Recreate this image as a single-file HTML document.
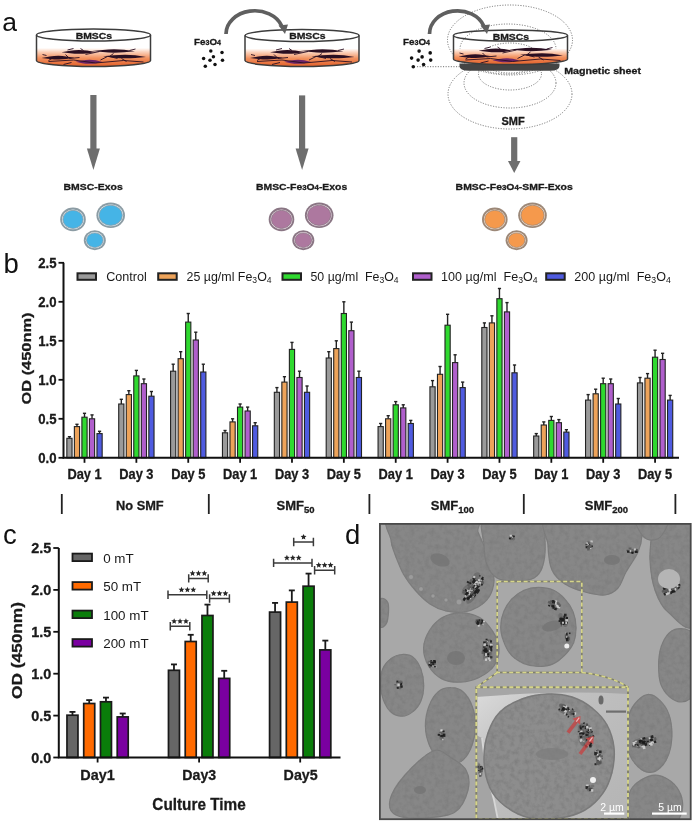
<!DOCTYPE html>
<html><head><meta charset="utf-8"><style>
html,body{margin:0;padding:0;background:#fff;width:697px;height:822px;overflow:hidden}
svg{display:block;font-family:"Liberation Sans", sans-serif;filter:blur(0.4px)}
text[font-weight=bold]{stroke:#1a1a1a;stroke-width:0.3px}
</style></head><body>
<svg width="697" height="822" viewBox="0 0 697 822">
<defs>
<linearGradient id="liq" x1="0" y1="0" x2="0" y2="1">
<stop offset="0" stop-color="#ffffff"/><stop offset="0.2" stop-color="#fbd3bd"/><stop offset="0.55" stop-color="#f2915f"/><stop offset="1" stop-color="#e25e28"/>
</linearGradient>
<clipPath id="dclip"><rect x="380" y="524" width="310.5" height="295"/></clipPath><clipPath id="iclip"><rect x="476.5" y="687.5" width="151.5" height="131.5"/></clipPath><filter id="mott" x="370" y="515" width="330" height="310" filterUnits="userSpaceOnUse"><feTurbulence type="fractalNoise" baseFrequency="0.2" numOctaves="3" seed="3" result="n"/><feColorMatrix in="n" type="matrix" values="0 0 0 0 0.2  0 0 0 0 0.2  0 0 0 0 0.2  1.7 0 0 0 -0.68" result="a"/><feComposite in="a" in2="SourceAlpha" operator="in" result="a2"/><feMerge><feMergeNode in="SourceGraphic"/><feMergeNode in="a2"/></feMerge></filter><filter id="tex" x="0" y="0" width="1" height="1"><feTurbulence type="fractalNoise" baseFrequency="0.18" numOctaves="2" seed="4" result="n"/><feColorMatrix in="n" type="matrix" values="0 0 0 0 0.3  0 0 0 0 0.3  0 0 0 0 0.3  0 0 0 -1.6 1.05" result="m"/><feComposite in="m" in2="SourceGraphic" operator="in"/></filter>
</defs>
<text x="2.2" y="30.6" font-size="26.5" font-weight="normal" text-anchor="start" fill="#111" >a</text>
<text x="3.5" y="272.7" font-size="27.5" font-weight="normal" text-anchor="start" fill="#111" >b</text>
<text x="3.0" y="543.6" font-size="27.5" font-weight="normal" text-anchor="start" fill="#111" >c</text>
<text x="345.0" y="543.6" font-size="27.5" font-weight="normal" text-anchor="start" fill="#111" >d</text>
<ellipse cx="510" cy="40" rx="62.5" ry="35" fill="none" stroke="#707070" stroke-width="1" stroke-dasharray="1.1 1.5"/>
<ellipse cx="508" cy="49" rx="48" ry="25" fill="none" stroke="#707070" stroke-width="1" stroke-dasharray="1.1 1.5"/>
<ellipse cx="510" cy="58" rx="30" ry="15" fill="none" stroke="#707070" stroke-width="1" stroke-dasharray="1.1 1.5"/>
<ellipse cx="510" cy="94" rx="62" ry="35" fill="none" stroke="#707070" stroke-width="1" stroke-dasharray="1.1 1.5"/>
<ellipse cx="510" cy="83" rx="46" ry="25" fill="none" stroke="#707070" stroke-width="1" stroke-dasharray="1.1 1.5"/>
<ellipse cx="510" cy="74" rx="31.5" ry="16" fill="none" stroke="#707070" stroke-width="1" stroke-dasharray="1.1 1.5"/>
<line x1="417" y1="66.7" x2="461" y2="66.7" stroke="#707070" stroke-width="1" stroke-dasharray="1.1 1.5"/>
<path d="M459.5,63.5 L559.5,63.5 L559.5,66 Q559.5,70.8 550,70.8 L469,70.8 Q459.5,70.8 459.5,66 Z" fill="#444"/>
<path d="M36.5,48 L36.5,60.5 A57,6 0 0 0 150.5,60.5 L150.5,48 Z" fill="url(#liq)"/><path d="M61.5,52.2 L70.0,50.7 Q78.5,49.5 87.0,50.6 L95.5,52.0 L87.0,53.4 Q78.5,54.4 70.0,53.2 Z" fill="#2a0f22"/><path d="M92.0,50.9 L102.8,49.9 Q113.5,48.8 124.2,49.8 L135.0,51.3 L124.2,52.2 Q113.5,53.1 102.8,52.1 Z" fill="#2a0f22"/><path d="M41.5,58.0 L49.8,56.5 Q58.0,55.3 66.2,56.4 L74.5,57.7 L66.2,59.1 Q58.0,60.0 49.8,58.9 Z" fill="#2a0f22"/><path d="M103.0,56.3 L113.8,55.3 Q124.5,54.1 135.2,55.2 L146.0,57.0 L135.2,57.9 Q124.5,58.8 113.8,57.7 Z" fill="#2a0f22"/><path d="M75.5,61.7 L82.2,60.4 Q89.0,59.0 95.8,60.2 L102.5,62.1 L95.8,63.3 Q89.0,64.4 82.2,63.2 Z" fill="#6a2468"/><path d="M48.5,61.5 L73.5,60.0 L95.5,63.0 L123.5,60.5 L143.5,62.0 M67.5,50.0 L73.5,48.5 M85.5,54.5 L99.5,51.5 M71.5,62.5 L63.5,64.5 M107.5,56.5 l-7,3.5 M129.5,50.5 l6,-1.5 M53.5,57.5 l-5,3 M65.5,54.5 l4,4 l10,-1 M113.5,53.5 l-4,3 l8,2 M83.5,50.5 l-3,-2 M121.5,58.5 l5,3 M46.5,55.5 l-4,-1" stroke="#2a0f22" stroke-width="0.9" fill="none"/><path d="M36.5,35 L36.5,60.5 A57,6 0 0 0 150.5,60.5 L150.5,35" fill="none" stroke="#3c3c3c" stroke-width="1.5"/><ellipse cx="93.5" cy="35" rx="57" ry="6" fill="none" stroke="#3c3c3c" stroke-width="1.5"/>
<text x="93.90" y="38.80" font-size="9.7" font-weight="bold" text-anchor="middle" textLength="36.50" lengthAdjust="spacingAndGlyphs" fill="#1a1a1a">BMSCs</text>
<path d="M245,48.6 L245,60.5 A57,6 0 0 0 359,60.5 L359,48.6 Z" fill="url(#liq)"/><path d="M270.0,52.2 L278.5,50.7 Q287.0,49.5 295.5,50.6 L304.0,52.0 L295.5,53.4 Q287.0,54.4 278.5,53.2 Z" fill="#2a0f22"/><path d="M300.5,50.9 L311.2,49.9 Q322.0,48.8 332.8,49.8 L343.5,51.3 L332.8,52.2 Q322.0,53.1 311.2,52.1 Z" fill="#2a0f22"/><path d="M250.0,58.0 L258.2,56.5 Q266.5,55.3 274.8,56.4 L283.0,57.7 L274.8,59.1 Q266.5,60.0 258.2,58.9 Z" fill="#2a0f22"/><path d="M311.5,56.3 L322.2,55.3 Q333.0,54.1 343.8,55.2 L354.5,57.0 L343.8,57.9 Q333.0,58.8 322.2,57.7 Z" fill="#2a0f22"/><path d="M284.0,61.7 L290.8,60.4 Q297.5,59.0 304.2,60.2 L311.0,62.1 L304.2,63.3 Q297.5,64.4 290.8,63.2 Z" fill="#6a2468"/><path d="M257,61.5 L282,60.0 L304,63.0 L332,60.5 L352,62.0 M276,50.0 L282,48.5 M294,54.5 L308,51.5 M280,62.5 L272,64.5 M316,56.5 l-7,3.5 M338,50.5 l6,-1.5 M262,57.5 l-5,3 M274,54.5 l4,4 l10,-1 M322,53.5 l-4,3 l8,2 M292,50.5 l-3,-2 M330,58.5 l5,3 M255,55.5 l-4,-1" stroke="#2a0f22" stroke-width="0.9" fill="none"/><path d="M245,35.6 L245,60.5 A57,6 0 0 0 359,60.5 L359,35.6" fill="none" stroke="#3c3c3c" stroke-width="1.5"/><ellipse cx="302" cy="35.6" rx="57" ry="6" fill="none" stroke="#3c3c3c" stroke-width="1.5"/>
<text x="307.40" y="39.40" font-size="9.7" font-weight="bold" text-anchor="middle" textLength="36.50" lengthAdjust="spacingAndGlyphs" fill="#1a1a1a">BMSCs</text>
<path d="M453.5,48.5 L453.5,59 A57,5.5 0 0 0 567.5,59 L567.5,48.5 Z" fill="url(#liq)"/><path d="M478.5,50.7 L487.0,49.2 Q495.5,48.0 504.0,49.1 L512.5,50.5 L504.0,51.9 Q495.5,52.9 487.0,51.7 Z" fill="#2a0f22"/><path d="M509.0,49.4 L519.8,48.4 Q530.5,47.3 541.2,48.3 L552.0,49.8 L541.2,50.7 Q530.5,51.6 519.8,50.6 Z" fill="#2a0f22"/><path d="M458.5,56.5 L466.8,55.0 Q475.0,53.8 483.2,54.9 L491.5,56.2 L483.2,57.6 Q475.0,58.5 466.8,57.4 Z" fill="#2a0f22"/><path d="M520.0,54.8 L530.8,53.8 Q541.5,52.6 552.2,53.7 L563.0,55.5 L552.2,56.4 Q541.5,57.3 530.8,56.2 Z" fill="#2a0f22"/><path d="M492.5,60.2 L499.2,58.9 Q506.0,57.5 512.8,58.7 L519.5,60.6 L512.8,61.8 Q506.0,62.9 499.2,61.7 Z" fill="#6a2468"/><path d="M465.5,60 L490.5,58.5 L512.5,61.5 L540.5,59 L560.5,60.5 M484.5,48.5 L490.5,47 M502.5,53 L516.5,50 M488.5,61 L480.5,63 M524.5,55 l-7,3.5 M546.5,49 l6,-1.5 M470.5,56 l-5,3 M482.5,53 l4,4 l10,-1 M530.5,52 l-4,3 l8,2 M500.5,49 l-3,-2 M538.5,57 l5,3 M463.5,54 l-4,-1" stroke="#2a0f22" stroke-width="0.9" fill="none"/><path d="M453.5,35.5 L453.5,59 A57,5.5 0 0 0 567.5,59 L567.5,35.5" fill="none" stroke="#3c3c3c" stroke-width="1.5"/><ellipse cx="510.5" cy="35.5" rx="57" ry="5.5" fill="none" stroke="#3c3c3c" stroke-width="1.5"/>
<text x="510.90" y="39.80" font-size="9.7" font-weight="bold" text-anchor="middle" textLength="36.50" lengthAdjust="spacingAndGlyphs" fill="#1a1a1a">BMSCs</text>
<text x="194" y="45.3" font-size="9.8" font-weight="bold" text-anchor="start" fill="#1a1a1a">Fe<tspan font-size="7.1">3</tspan>O<tspan font-size="7.1">4</tspan></text>
<text x="403" y="45.1" font-size="9.8" font-weight="bold" text-anchor="start" fill="#1a1a1a">Fe<tspan font-size="7.1">3</tspan>O<tspan font-size="7.1">4</tspan></text>
<circle cx="210.8" cy="51.1" r="1.75" fill="#111"/>
<circle cx="222" cy="52.5" r="1.75" fill="#111"/>
<circle cx="213.4" cy="56.8" r="1.75" fill="#111"/>
<circle cx="203.6" cy="58.5" r="1.75" fill="#111"/>
<circle cx="222.5" cy="60.3" r="1.75" fill="#111"/>
<circle cx="210" cy="60.3" r="1.75" fill="#111"/>
<circle cx="215" cy="64.6" r="1.75" fill="#111"/>
<circle cx="205.3" cy="66.3" r="1.75" fill="#111"/>
<circle cx="419.1" cy="51.1" r="1.8" fill="#111"/>
<circle cx="430.2" cy="52.9" r="1.8" fill="#111"/>
<circle cx="411.6" cy="58.1" r="1.8" fill="#111"/>
<circle cx="422.1" cy="56.9" r="1.8" fill="#111"/>
<circle cx="418.1" cy="60.1" r="1.8" fill="#111"/>
<circle cx="430.7" cy="60.1" r="1.8" fill="#111"/>
<circle cx="423.6" cy="64.6" r="1.8" fill="#111"/>
<circle cx="413.3" cy="66.7" r="1.8" fill="#111"/>
<path d="M226.00,33.90 A28.75,23.10 0 0 1 281.77,26.00" fill="none" stroke="#5f5f5f" stroke-width="3.7"/>
<path d="M278.5,25.4 L288,24.4 L285,33.9 Z" fill="#5f5f5f"/>
<path d="M429.50,33.90 A28.00,23.10 0 0 1 483.81,26.00" fill="none" stroke="#5f5f5f" stroke-width="3.7"/>
<path d="M480.5,25.4 L490,24.4 L487,33.9 Z" fill="#5f5f5f"/>
<text x="602.60" y="74.30" font-size="9.3" font-weight="bold" text-anchor="middle" textLength="76.80" lengthAdjust="spacingAndGlyphs" fill="#1a1a1a">Magnetic sheet</text>
<text x="513.0" y="124.5" font-size="11" font-weight="bold" text-anchor="middle" fill="#1a1a1a" >SMF</text>
<rect x="90.30000000000001" y="95" width="6.2" height="54.400000000000006" fill="#6e6e6e"/>
<path d="M86.9,148.4 L99.9,148.4 L93.4,170 Z" fill="#6e6e6e"/>
<rect x="299.0" y="95.4" width="6.2" height="54.0" fill="#6e6e6e"/>
<path d="M295.6,148.4 L308.6,148.4 L302.1,170 Z" fill="#6e6e6e"/>
<rect x="511.1" y="137.2" width="6.2" height="24.80000000000001" fill="#6e6e6e"/>
<path d="M507.95000000000005,161 L520.45,161 L514.2,173 Z" fill="#6e6e6e"/>
<text x="93.15" y="189.70" font-size="9.6" font-weight="bold" text-anchor="middle" textLength="59.10" lengthAdjust="spacingAndGlyphs" fill="#1a1a1a">BMSC-Exos</text>
<text x="301.6" y="189.7" font-size="9.6" font-weight="bold" text-anchor="middle" textLength="91.2" lengthAdjust="spacingAndGlyphs" fill="#1a1a1a">BMSC-Fe<tspan font-size="7.2">3</tspan>O<tspan font-size="7.2">4</tspan>-Exos</text>
<text x="514.2" y="190.1" font-size="9.6" font-weight="bold" text-anchor="middle" textLength="117.2" lengthAdjust="spacingAndGlyphs" fill="#1a1a1a">BMSC-Fe<tspan font-size="7.2">3</tspan>O<tspan font-size="7.2">4</tspan>-SMF-Exos</text>
<ellipse cx="73.0" cy="219.4" rx="12.8" ry="11.8" fill="#8c9ca4"/>
<ellipse cx="73.0" cy="219.4" rx="10.9" ry="9.9" fill="#e8f6fc"/>
<ellipse cx="73.0" cy="219.4" rx="10.100000000000001" ry="9.100000000000001" fill="#45b4e6" stroke="#8c9ca4" stroke-width="0.8"/>
<ellipse cx="110.69999999999999" cy="215.3" rx="14.3" ry="12.8" fill="#8c9ca4"/>
<ellipse cx="110.69999999999999" cy="215.3" rx="12.4" ry="10.9" fill="#e8f6fc"/>
<ellipse cx="110.69999999999999" cy="215.3" rx="11.600000000000001" ry="10.100000000000001" fill="#45b4e6" stroke="#8c9ca4" stroke-width="0.8"/>
<ellipse cx="94.80000000000001" cy="240.2" rx="11" ry="10" fill="#8c9ca4"/>
<ellipse cx="94.80000000000001" cy="240.2" rx="9.1" ry="8.1" fill="#e8f6fc"/>
<ellipse cx="94.80000000000001" cy="240.2" rx="8.3" ry="7.3" fill="#45b4e6" stroke="#8c9ca4" stroke-width="0.8"/>
<ellipse cx="281.5" cy="219.4" rx="12.8" ry="11.8" fill="#8a7684"/>
<ellipse cx="281.5" cy="219.4" rx="10.9" ry="9.9" fill="#f3e6ef"/>
<ellipse cx="281.5" cy="219.4" rx="10.100000000000001" ry="9.100000000000001" fill="#ad789f" stroke="#8a7684" stroke-width="0.8"/>
<ellipse cx="319.2" cy="215.3" rx="14.3" ry="12.8" fill="#8a7684"/>
<ellipse cx="319.2" cy="215.3" rx="12.4" ry="10.9" fill="#f3e6ef"/>
<ellipse cx="319.2" cy="215.3" rx="11.600000000000001" ry="10.100000000000001" fill="#ad789f" stroke="#8a7684" stroke-width="0.8"/>
<ellipse cx="303.3" cy="240.2" rx="11" ry="10" fill="#8a7684"/>
<ellipse cx="303.3" cy="240.2" rx="9.1" ry="8.1" fill="#f3e6ef"/>
<ellipse cx="303.3" cy="240.2" rx="8.3" ry="7.3" fill="#ad789f" stroke="#8a7684" stroke-width="0.8"/>
<ellipse cx="494.8" cy="219.4" rx="12.8" ry="11.8" fill="#9c8878"/>
<ellipse cx="494.8" cy="219.4" rx="10.9" ry="9.9" fill="#fde8d6"/>
<ellipse cx="494.8" cy="219.4" rx="10.100000000000001" ry="9.100000000000001" fill="#f5994c" stroke="#9c8878" stroke-width="0.8"/>
<ellipse cx="532.5" cy="215.3" rx="14.3" ry="12.8" fill="#9c8878"/>
<ellipse cx="532.5" cy="215.3" rx="12.4" ry="10.9" fill="#fde8d6"/>
<ellipse cx="532.5" cy="215.3" rx="11.600000000000001" ry="10.100000000000001" fill="#f5994c" stroke="#9c8878" stroke-width="0.8"/>
<ellipse cx="516.6" cy="240.2" rx="11" ry="10" fill="#9c8878"/>
<ellipse cx="516.6" cy="240.2" rx="9.1" ry="8.1" fill="#fde8d6"/>
<ellipse cx="516.6" cy="240.2" rx="8.3" ry="7.3" fill="#f5994c" stroke="#9c8878" stroke-width="0.8"/>
<line x1="69.44" y1="438.3" x2="69.44" y2="436.7" stroke="#222" stroke-width="1.4"/><line x1="67.84" y1="436.7" x2="71.04" y2="436.7" stroke="#222" stroke-width="1.4"/><rect x="66.84" y="438.3" width="5.2" height="19.5" fill="#9a9a9a" stroke="#222" stroke-width="1.1"/><line x1="76.97" y1="426.6" x2="76.97" y2="424.3" stroke="#222" stroke-width="1.4"/><line x1="75.37" y1="424.3" x2="78.57" y2="424.3" stroke="#222" stroke-width="1.4"/><rect x="74.37" y="426.6" width="5.2" height="31.2" fill="#eda35a" stroke="#222" stroke-width="1.1"/><line x1="84.50" y1="417.2" x2="84.50" y2="413.3" stroke="#222" stroke-width="1.4"/><line x1="82.90" y1="413.3" x2="86.10" y2="413.3" stroke="#222" stroke-width="1.4"/><rect x="81.90" y="417.2" width="5.2" height="40.6" fill="#2fd92f" stroke="#222" stroke-width="1.1"/><line x1="92.03" y1="418.8" x2="92.03" y2="414.9" stroke="#222" stroke-width="1.4"/><line x1="90.43" y1="414.9" x2="93.63" y2="414.9" stroke="#222" stroke-width="1.4"/><rect x="89.43" y="418.8" width="5.2" height="39.0" fill="#b05fcc" stroke="#222" stroke-width="1.1"/><line x1="99.56" y1="433.6" x2="99.56" y2="431.3" stroke="#222" stroke-width="1.4"/><line x1="97.96" y1="431.3" x2="101.16" y2="431.3" stroke="#222" stroke-width="1.4"/><rect x="96.96" y="433.6" width="5.2" height="24.2" fill="#4f5be0" stroke="#222" stroke-width="1.1"/><line x1="84.50" y1="457.8" x2="84.50" y2="462.8" stroke="#111" stroke-width="1.8"/><line x1="121.31" y1="404.0" x2="121.31" y2="399.3" stroke="#222" stroke-width="1.4"/><line x1="119.71" y1="399.3" x2="122.91" y2="399.3" stroke="#222" stroke-width="1.4"/><rect x="118.71" y="404.0" width="5.2" height="53.8" fill="#9a9a9a" stroke="#222" stroke-width="1.1"/><line x1="128.84" y1="394.6" x2="128.84" y2="390.7" stroke="#222" stroke-width="1.4"/><line x1="127.24" y1="390.7" x2="130.44" y2="390.7" stroke="#222" stroke-width="1.4"/><rect x="126.24" y="394.6" width="5.2" height="63.2" fill="#eda35a" stroke="#222" stroke-width="1.1"/><line x1="136.37" y1="375.9" x2="136.37" y2="370.4" stroke="#222" stroke-width="1.4"/><line x1="134.77" y1="370.4" x2="137.97" y2="370.4" stroke="#222" stroke-width="1.4"/><rect x="133.77" y="375.9" width="5.2" height="81.9" fill="#2fd92f" stroke="#222" stroke-width="1.1"/><line x1="143.90" y1="383.7" x2="143.90" y2="379.0" stroke="#222" stroke-width="1.4"/><line x1="142.30" y1="379.0" x2="145.50" y2="379.0" stroke="#222" stroke-width="1.4"/><rect x="141.30" y="383.7" width="5.2" height="74.1" fill="#b05fcc" stroke="#222" stroke-width="1.1"/><line x1="151.43" y1="396.2" x2="151.43" y2="391.5" stroke="#222" stroke-width="1.4"/><line x1="149.83" y1="391.5" x2="153.03" y2="391.5" stroke="#222" stroke-width="1.4"/><rect x="148.83" y="396.2" width="5.2" height="61.6" fill="#4f5be0" stroke="#222" stroke-width="1.1"/><line x1="136.37" y1="457.8" x2="136.37" y2="462.8" stroke="#111" stroke-width="1.8"/><line x1="173.18" y1="371.2" x2="173.18" y2="364.2" stroke="#222" stroke-width="1.4"/><line x1="171.58" y1="364.2" x2="174.78" y2="364.2" stroke="#222" stroke-width="1.4"/><rect x="170.58" y="371.2" width="5.2" height="86.6" fill="#9a9a9a" stroke="#222" stroke-width="1.1"/><line x1="180.71" y1="358.7" x2="180.71" y2="351.7" stroke="#222" stroke-width="1.4"/><line x1="179.11" y1="351.7" x2="182.31" y2="351.7" stroke="#222" stroke-width="1.4"/><rect x="178.11" y="358.7" width="5.2" height="99.1" fill="#eda35a" stroke="#222" stroke-width="1.1"/><line x1="188.24" y1="322.1" x2="188.24" y2="313.5" stroke="#222" stroke-width="1.4"/><line x1="186.64" y1="313.5" x2="189.84" y2="313.5" stroke="#222" stroke-width="1.4"/><rect x="185.64" y="322.1" width="5.2" height="135.7" fill="#2fd92f" stroke="#222" stroke-width="1.1"/><line x1="195.77" y1="340.0" x2="195.77" y2="332.2" stroke="#222" stroke-width="1.4"/><line x1="194.17" y1="332.2" x2="197.37" y2="332.2" stroke="#222" stroke-width="1.4"/><rect x="193.17" y="340.0" width="5.2" height="117.8" fill="#b05fcc" stroke="#222" stroke-width="1.1"/><line x1="203.30" y1="372.0" x2="203.30" y2="364.2" stroke="#222" stroke-width="1.4"/><line x1="201.70" y1="364.2" x2="204.90" y2="364.2" stroke="#222" stroke-width="1.4"/><rect x="200.70" y="372.0" width="5.2" height="85.8" fill="#4f5be0" stroke="#222" stroke-width="1.1"/><line x1="188.24" y1="457.8" x2="188.24" y2="462.8" stroke="#111" stroke-width="1.8"/><line x1="225.05" y1="432.8" x2="225.05" y2="430.5" stroke="#222" stroke-width="1.4"/><line x1="223.45" y1="430.5" x2="226.65" y2="430.5" stroke="#222" stroke-width="1.4"/><rect x="222.45" y="432.8" width="5.2" height="25.0" fill="#9a9a9a" stroke="#222" stroke-width="1.1"/><line x1="232.58" y1="421.9" x2="232.58" y2="418.8" stroke="#222" stroke-width="1.4"/><line x1="230.98" y1="418.8" x2="234.18" y2="418.8" stroke="#222" stroke-width="1.4"/><rect x="229.98" y="421.9" width="5.2" height="35.9" fill="#eda35a" stroke="#222" stroke-width="1.1"/><line x1="240.11" y1="407.1" x2="240.11" y2="404.0" stroke="#222" stroke-width="1.4"/><line x1="238.51" y1="404.0" x2="241.71" y2="404.0" stroke="#222" stroke-width="1.4"/><rect x="237.51" y="407.1" width="5.2" height="50.7" fill="#2fd92f" stroke="#222" stroke-width="1.1"/><line x1="247.64" y1="411.0" x2="247.64" y2="407.1" stroke="#222" stroke-width="1.4"/><line x1="246.04" y1="407.1" x2="249.24" y2="407.1" stroke="#222" stroke-width="1.4"/><rect x="245.04" y="411.0" width="5.2" height="46.8" fill="#b05fcc" stroke="#222" stroke-width="1.1"/><line x1="255.17" y1="425.8" x2="255.17" y2="422.7" stroke="#222" stroke-width="1.4"/><line x1="253.57" y1="422.7" x2="256.77" y2="422.7" stroke="#222" stroke-width="1.4"/><rect x="252.57" y="425.8" width="5.2" height="32.0" fill="#4f5be0" stroke="#222" stroke-width="1.1"/><line x1="240.11" y1="457.8" x2="240.11" y2="462.8" stroke="#111" stroke-width="1.8"/><line x1="276.92" y1="392.3" x2="276.92" y2="387.6" stroke="#222" stroke-width="1.4"/><line x1="275.32" y1="387.6" x2="278.52" y2="387.6" stroke="#222" stroke-width="1.4"/><rect x="274.32" y="392.3" width="5.2" height="65.5" fill="#9a9a9a" stroke="#222" stroke-width="1.1"/><line x1="284.45" y1="382.1" x2="284.45" y2="376.7" stroke="#222" stroke-width="1.4"/><line x1="282.85" y1="376.7" x2="286.05" y2="376.7" stroke="#222" stroke-width="1.4"/><rect x="281.85" y="382.1" width="5.2" height="75.7" fill="#eda35a" stroke="#222" stroke-width="1.1"/><line x1="291.98" y1="349.4" x2="291.98" y2="342.4" stroke="#222" stroke-width="1.4"/><line x1="290.38" y1="342.4" x2="293.58" y2="342.4" stroke="#222" stroke-width="1.4"/><rect x="289.38" y="349.4" width="5.2" height="108.4" fill="#2fd92f" stroke="#222" stroke-width="1.1"/><line x1="299.51" y1="377.5" x2="299.51" y2="371.2" stroke="#222" stroke-width="1.4"/><line x1="297.91" y1="371.2" x2="301.11" y2="371.2" stroke="#222" stroke-width="1.4"/><rect x="296.91" y="377.5" width="5.2" height="80.3" fill="#b05fcc" stroke="#222" stroke-width="1.1"/><line x1="307.04" y1="392.3" x2="307.04" y2="386.0" stroke="#222" stroke-width="1.4"/><line x1="305.44" y1="386.0" x2="308.64" y2="386.0" stroke="#222" stroke-width="1.4"/><rect x="304.44" y="392.3" width="5.2" height="65.5" fill="#4f5be0" stroke="#222" stroke-width="1.1"/><line x1="291.98" y1="457.8" x2="291.98" y2="462.8" stroke="#111" stroke-width="1.8"/><line x1="328.79" y1="358.0" x2="328.79" y2="351.7" stroke="#222" stroke-width="1.4"/><line x1="327.19" y1="351.7" x2="330.39" y2="351.7" stroke="#222" stroke-width="1.4"/><rect x="326.19" y="358.0" width="5.2" height="99.8" fill="#9a9a9a" stroke="#222" stroke-width="1.1"/><line x1="336.32" y1="348.6" x2="336.32" y2="340.8" stroke="#222" stroke-width="1.4"/><line x1="334.72" y1="340.8" x2="337.92" y2="340.8" stroke="#222" stroke-width="1.4"/><rect x="333.72" y="348.6" width="5.2" height="109.2" fill="#eda35a" stroke="#222" stroke-width="1.1"/><line x1="343.85" y1="313.5" x2="343.85" y2="301.8" stroke="#222" stroke-width="1.4"/><line x1="342.25" y1="301.8" x2="345.45" y2="301.8" stroke="#222" stroke-width="1.4"/><rect x="341.25" y="313.5" width="5.2" height="144.3" fill="#2fd92f" stroke="#222" stroke-width="1.1"/><line x1="351.38" y1="330.7" x2="351.38" y2="322.1" stroke="#222" stroke-width="1.4"/><line x1="349.78" y1="322.1" x2="352.98" y2="322.1" stroke="#222" stroke-width="1.4"/><rect x="348.78" y="330.7" width="5.2" height="127.1" fill="#b05fcc" stroke="#222" stroke-width="1.1"/><line x1="358.91" y1="377.5" x2="358.91" y2="371.2" stroke="#222" stroke-width="1.4"/><line x1="357.31" y1="371.2" x2="360.51" y2="371.2" stroke="#222" stroke-width="1.4"/><rect x="356.31" y="377.5" width="5.2" height="80.3" fill="#4f5be0" stroke="#222" stroke-width="1.1"/><line x1="343.85" y1="457.8" x2="343.85" y2="462.8" stroke="#111" stroke-width="1.8"/><line x1="380.66" y1="426.6" x2="380.66" y2="423.5" stroke="#222" stroke-width="1.4"/><line x1="379.06" y1="423.5" x2="382.26" y2="423.5" stroke="#222" stroke-width="1.4"/><rect x="378.06" y="426.6" width="5.2" height="31.2" fill="#9a9a9a" stroke="#222" stroke-width="1.1"/><line x1="388.19" y1="418.8" x2="388.19" y2="415.7" stroke="#222" stroke-width="1.4"/><line x1="386.59" y1="415.7" x2="389.79" y2="415.7" stroke="#222" stroke-width="1.4"/><rect x="385.59" y="418.8" width="5.2" height="39.0" fill="#eda35a" stroke="#222" stroke-width="1.1"/><line x1="395.72" y1="404.8" x2="395.72" y2="401.6" stroke="#222" stroke-width="1.4"/><line x1="394.12" y1="401.6" x2="397.32" y2="401.6" stroke="#222" stroke-width="1.4"/><rect x="393.12" y="404.8" width="5.2" height="53.0" fill="#2fd92f" stroke="#222" stroke-width="1.1"/><line x1="403.25" y1="407.9" x2="403.25" y2="404.8" stroke="#222" stroke-width="1.4"/><line x1="401.65" y1="404.8" x2="404.85" y2="404.8" stroke="#222" stroke-width="1.4"/><rect x="400.65" y="407.9" width="5.2" height="49.9" fill="#b05fcc" stroke="#222" stroke-width="1.1"/><line x1="410.78" y1="423.5" x2="410.78" y2="420.4" stroke="#222" stroke-width="1.4"/><line x1="409.18" y1="420.4" x2="412.38" y2="420.4" stroke="#222" stroke-width="1.4"/><rect x="408.18" y="423.5" width="5.2" height="34.3" fill="#4f5be0" stroke="#222" stroke-width="1.1"/><line x1="395.72" y1="457.8" x2="395.72" y2="462.8" stroke="#111" stroke-width="1.8"/><line x1="432.53" y1="386.8" x2="432.53" y2="380.6" stroke="#222" stroke-width="1.4"/><line x1="430.93" y1="380.6" x2="434.13" y2="380.6" stroke="#222" stroke-width="1.4"/><rect x="429.93" y="386.8" width="5.2" height="71.0" fill="#9a9a9a" stroke="#222" stroke-width="1.1"/><line x1="440.06" y1="374.3" x2="440.06" y2="366.5" stroke="#222" stroke-width="1.4"/><line x1="438.46" y1="366.5" x2="441.66" y2="366.5" stroke="#222" stroke-width="1.4"/><rect x="437.46" y="374.3" width="5.2" height="83.5" fill="#eda35a" stroke="#222" stroke-width="1.1"/><line x1="447.59" y1="325.2" x2="447.59" y2="314.3" stroke="#222" stroke-width="1.4"/><line x1="445.99" y1="314.3" x2="449.19" y2="314.3" stroke="#222" stroke-width="1.4"/><rect x="444.99" y="325.2" width="5.2" height="132.6" fill="#2fd92f" stroke="#222" stroke-width="1.1"/><line x1="455.12" y1="362.6" x2="455.12" y2="354.8" stroke="#222" stroke-width="1.4"/><line x1="453.52" y1="354.8" x2="456.72" y2="354.8" stroke="#222" stroke-width="1.4"/><rect x="452.52" y="362.6" width="5.2" height="95.2" fill="#b05fcc" stroke="#222" stroke-width="1.1"/><line x1="462.65" y1="387.6" x2="462.65" y2="382.1" stroke="#222" stroke-width="1.4"/><line x1="461.05" y1="382.1" x2="464.25" y2="382.1" stroke="#222" stroke-width="1.4"/><rect x="460.05" y="387.6" width="5.2" height="70.2" fill="#4f5be0" stroke="#222" stroke-width="1.1"/><line x1="447.59" y1="457.8" x2="447.59" y2="462.8" stroke="#111" stroke-width="1.8"/><line x1="484.40" y1="327.5" x2="484.40" y2="322.9" stroke="#222" stroke-width="1.4"/><line x1="482.80" y1="322.9" x2="486.00" y2="322.9" stroke="#222" stroke-width="1.4"/><rect x="481.80" y="327.5" width="5.2" height="130.3" fill="#9a9a9a" stroke="#222" stroke-width="1.1"/><line x1="491.93" y1="322.9" x2="491.93" y2="315.8" stroke="#222" stroke-width="1.4"/><line x1="490.33" y1="315.8" x2="493.53" y2="315.8" stroke="#222" stroke-width="1.4"/><rect x="489.33" y="322.9" width="5.2" height="134.9" fill="#eda35a" stroke="#222" stroke-width="1.1"/><line x1="499.46" y1="298.7" x2="499.46" y2="288.5" stroke="#222" stroke-width="1.4"/><line x1="497.86" y1="288.5" x2="501.06" y2="288.5" stroke="#222" stroke-width="1.4"/><rect x="496.86" y="298.7" width="5.2" height="159.1" fill="#2fd92f" stroke="#222" stroke-width="1.1"/><line x1="506.99" y1="311.9" x2="506.99" y2="302.6" stroke="#222" stroke-width="1.4"/><line x1="505.39" y1="302.6" x2="508.59" y2="302.6" stroke="#222" stroke-width="1.4"/><rect x="504.39" y="311.9" width="5.2" height="145.9" fill="#b05fcc" stroke="#222" stroke-width="1.1"/><line x1="514.52" y1="372.8" x2="514.52" y2="365.0" stroke="#222" stroke-width="1.4"/><line x1="512.92" y1="365.0" x2="516.12" y2="365.0" stroke="#222" stroke-width="1.4"/><rect x="511.92" y="372.8" width="5.2" height="85.0" fill="#4f5be0" stroke="#222" stroke-width="1.1"/><line x1="499.46" y1="457.8" x2="499.46" y2="462.8" stroke="#111" stroke-width="1.8"/><line x1="536.27" y1="436.0" x2="536.27" y2="433.6" stroke="#222" stroke-width="1.4"/><line x1="534.67" y1="433.6" x2="537.87" y2="433.6" stroke="#222" stroke-width="1.4"/><rect x="533.67" y="436.0" width="5.2" height="21.8" fill="#9a9a9a" stroke="#222" stroke-width="1.1"/><line x1="543.80" y1="425.0" x2="543.80" y2="421.9" stroke="#222" stroke-width="1.4"/><line x1="542.20" y1="421.9" x2="545.40" y2="421.9" stroke="#222" stroke-width="1.4"/><rect x="541.20" y="425.0" width="5.2" height="32.8" fill="#eda35a" stroke="#222" stroke-width="1.1"/><line x1="551.33" y1="420.4" x2="551.33" y2="416.5" stroke="#222" stroke-width="1.4"/><line x1="549.73" y1="416.5" x2="552.93" y2="416.5" stroke="#222" stroke-width="1.4"/><rect x="548.73" y="420.4" width="5.2" height="37.4" fill="#2fd92f" stroke="#222" stroke-width="1.1"/><line x1="558.86" y1="422.7" x2="558.86" y2="419.6" stroke="#222" stroke-width="1.4"/><line x1="557.26" y1="419.6" x2="560.46" y2="419.6" stroke="#222" stroke-width="1.4"/><rect x="556.26" y="422.7" width="5.2" height="35.1" fill="#b05fcc" stroke="#222" stroke-width="1.1"/><line x1="566.39" y1="432.1" x2="566.39" y2="429.7" stroke="#222" stroke-width="1.4"/><line x1="564.79" y1="429.7" x2="567.99" y2="429.7" stroke="#222" stroke-width="1.4"/><rect x="563.79" y="432.1" width="5.2" height="25.7" fill="#4f5be0" stroke="#222" stroke-width="1.1"/><line x1="551.33" y1="457.8" x2="551.33" y2="462.8" stroke="#111" stroke-width="1.8"/><line x1="588.14" y1="400.1" x2="588.14" y2="394.6" stroke="#222" stroke-width="1.4"/><line x1="586.54" y1="394.6" x2="589.74" y2="394.6" stroke="#222" stroke-width="1.4"/><rect x="585.54" y="400.1" width="5.2" height="57.7" fill="#9a9a9a" stroke="#222" stroke-width="1.1"/><line x1="595.67" y1="393.8" x2="595.67" y2="389.2" stroke="#222" stroke-width="1.4"/><line x1="594.07" y1="389.2" x2="597.27" y2="389.2" stroke="#222" stroke-width="1.4"/><rect x="593.07" y="393.8" width="5.2" height="64.0" fill="#eda35a" stroke="#222" stroke-width="1.1"/><line x1="603.20" y1="383.7" x2="603.20" y2="378.2" stroke="#222" stroke-width="1.4"/><line x1="601.60" y1="378.2" x2="604.80" y2="378.2" stroke="#222" stroke-width="1.4"/><rect x="600.60" y="383.7" width="5.2" height="74.1" fill="#2fd92f" stroke="#222" stroke-width="1.1"/><line x1="610.73" y1="383.7" x2="610.73" y2="379.0" stroke="#222" stroke-width="1.4"/><line x1="609.13" y1="379.0" x2="612.33" y2="379.0" stroke="#222" stroke-width="1.4"/><rect x="608.13" y="383.7" width="5.2" height="74.1" fill="#b05fcc" stroke="#222" stroke-width="1.1"/><line x1="618.26" y1="404.0" x2="618.26" y2="398.5" stroke="#222" stroke-width="1.4"/><line x1="616.66" y1="398.5" x2="619.86" y2="398.5" stroke="#222" stroke-width="1.4"/><rect x="615.66" y="404.0" width="5.2" height="53.8" fill="#4f5be0" stroke="#222" stroke-width="1.1"/><line x1="603.20" y1="457.8" x2="603.20" y2="462.8" stroke="#111" stroke-width="1.8"/><line x1="640.01" y1="382.9" x2="640.01" y2="377.5" stroke="#222" stroke-width="1.4"/><line x1="638.41" y1="377.5" x2="641.61" y2="377.5" stroke="#222" stroke-width="1.4"/><rect x="637.41" y="382.9" width="5.2" height="74.9" fill="#9a9a9a" stroke="#222" stroke-width="1.1"/><line x1="647.54" y1="378.2" x2="647.54" y2="373.6" stroke="#222" stroke-width="1.4"/><line x1="645.94" y1="373.6" x2="649.14" y2="373.6" stroke="#222" stroke-width="1.4"/><rect x="644.94" y="378.2" width="5.2" height="79.6" fill="#eda35a" stroke="#222" stroke-width="1.1"/><line x1="655.07" y1="357.2" x2="655.07" y2="350.2" stroke="#222" stroke-width="1.4"/><line x1="653.47" y1="350.2" x2="656.67" y2="350.2" stroke="#222" stroke-width="1.4"/><rect x="652.47" y="357.2" width="5.2" height="100.6" fill="#2fd92f" stroke="#222" stroke-width="1.1"/><line x1="662.60" y1="359.5" x2="662.60" y2="353.3" stroke="#222" stroke-width="1.4"/><line x1="661.00" y1="353.3" x2="664.20" y2="353.3" stroke="#222" stroke-width="1.4"/><rect x="660.00" y="359.5" width="5.2" height="98.3" fill="#b05fcc" stroke="#222" stroke-width="1.1"/><line x1="670.13" y1="400.1" x2="670.13" y2="395.4" stroke="#222" stroke-width="1.4"/><line x1="668.53" y1="395.4" x2="671.73" y2="395.4" stroke="#222" stroke-width="1.4"/><rect x="667.53" y="400.1" width="5.2" height="57.7" fill="#4f5be0" stroke="#222" stroke-width="1.1"/><line x1="655.07" y1="457.8" x2="655.07" y2="462.8" stroke="#111" stroke-width="1.8"/>
<path d="M63.5,262.8 L63.5,457.8 L679.0,457.8" fill="none" stroke="#111" stroke-width="2"/>
<line x1="58.5" y1="457.8" x2="64.0" y2="457.8" stroke="#111" stroke-width="1.8"/>
<text x="47.35" y="462.60" font-size="14.6" font-weight="bold" text-anchor="middle" textLength="18.30" lengthAdjust="spacingAndGlyphs" fill="#1a1a1a">0.0</text>
<line x1="58.5" y1="418.8" x2="64.0" y2="418.8" stroke="#111" stroke-width="1.8"/>
<text x="47.35" y="423.60" font-size="14.6" font-weight="bold" text-anchor="middle" textLength="18.30" lengthAdjust="spacingAndGlyphs" fill="#1a1a1a">0.5</text>
<line x1="58.5" y1="379.8" x2="64.0" y2="379.8" stroke="#111" stroke-width="1.8"/>
<text x="47.35" y="384.60" font-size="14.6" font-weight="bold" text-anchor="middle" textLength="18.30" lengthAdjust="spacingAndGlyphs" fill="#1a1a1a">1.0</text>
<line x1="58.5" y1="340.8" x2="64.0" y2="340.8" stroke="#111" stroke-width="1.8"/>
<text x="47.35" y="345.60" font-size="14.6" font-weight="bold" text-anchor="middle" textLength="18.30" lengthAdjust="spacingAndGlyphs" fill="#1a1a1a">1.5</text>
<line x1="58.5" y1="301.8" x2="64.0" y2="301.8" stroke="#111" stroke-width="1.8"/>
<text x="47.35" y="306.60" font-size="14.6" font-weight="bold" text-anchor="middle" textLength="18.30" lengthAdjust="spacingAndGlyphs" fill="#1a1a1a">2.0</text>
<line x1="58.5" y1="262.8" x2="64.0" y2="262.8" stroke="#111" stroke-width="1.8"/>
<text x="47.35" y="267.60" font-size="14.6" font-weight="bold" text-anchor="middle" textLength="18.30" lengthAdjust="spacingAndGlyphs" fill="#1a1a1a">2.5</text>
<text transform="translate(31.2,358.5) rotate(-90)" font-size="13.2" textLength="92" lengthAdjust="spacingAndGlyphs" font-weight="bold" text-anchor="middle" fill="#1a1a1a">OD (450nm)</text>
<text x="84.50" y="478.70" font-size="13.9" font-weight="bold" text-anchor="middle" textLength="34.20" lengthAdjust="spacingAndGlyphs" fill="#1a1a1a">Day 1</text>
<text x="136.37" y="478.70" font-size="13.9" font-weight="bold" text-anchor="middle" textLength="34.20" lengthAdjust="spacingAndGlyphs" fill="#1a1a1a">Day 3</text>
<text x="188.24" y="478.70" font-size="13.9" font-weight="bold" text-anchor="middle" textLength="34.20" lengthAdjust="spacingAndGlyphs" fill="#1a1a1a">Day 5</text>
<text x="240.11" y="478.70" font-size="13.9" font-weight="bold" text-anchor="middle" textLength="34.20" lengthAdjust="spacingAndGlyphs" fill="#1a1a1a">Day 1</text>
<text x="291.98" y="478.70" font-size="13.9" font-weight="bold" text-anchor="middle" textLength="34.20" lengthAdjust="spacingAndGlyphs" fill="#1a1a1a">Day 3</text>
<text x="343.85" y="478.70" font-size="13.9" font-weight="bold" text-anchor="middle" textLength="34.20" lengthAdjust="spacingAndGlyphs" fill="#1a1a1a">Day 5</text>
<text x="395.72" y="478.70" font-size="13.9" font-weight="bold" text-anchor="middle" textLength="34.20" lengthAdjust="spacingAndGlyphs" fill="#1a1a1a">Day 1</text>
<text x="447.59" y="478.70" font-size="13.9" font-weight="bold" text-anchor="middle" textLength="34.20" lengthAdjust="spacingAndGlyphs" fill="#1a1a1a">Day 3</text>
<text x="499.46" y="478.70" font-size="13.9" font-weight="bold" text-anchor="middle" textLength="34.20" lengthAdjust="spacingAndGlyphs" fill="#1a1a1a">Day 5</text>
<text x="551.33" y="478.70" font-size="13.9" font-weight="bold" text-anchor="middle" textLength="34.20" lengthAdjust="spacingAndGlyphs" fill="#1a1a1a">Day 1</text>
<text x="603.20" y="478.70" font-size="13.9" font-weight="bold" text-anchor="middle" textLength="34.20" lengthAdjust="spacingAndGlyphs" fill="#1a1a1a">Day 3</text>
<text x="655.07" y="478.70" font-size="13.9" font-weight="bold" text-anchor="middle" textLength="34.20" lengthAdjust="spacingAndGlyphs" fill="#1a1a1a">Day 5</text>
<line x1="61.8" y1="494" x2="61.8" y2="514" stroke="#222" stroke-width="1.8"/>
<line x1="208.8" y1="494" x2="208.8" y2="514" stroke="#222" stroke-width="1.8"/>
<line x1="369.4" y1="494" x2="369.4" y2="514" stroke="#222" stroke-width="1.8"/>
<line x1="523.8" y1="494" x2="523.8" y2="514" stroke="#222" stroke-width="1.8"/>
<line x1="675.4" y1="494" x2="675.4" y2="514" stroke="#222" stroke-width="1.8"/>
<text x="139.85" y="509.80" font-size="13" font-weight="bold" text-anchor="middle" textLength="47.70" lengthAdjust="spacingAndGlyphs" fill="#1a1a1a">No SMF</text>
<text x="295.6" y="509.8" font-size="13" font-weight="bold" text-anchor="middle" fill="#1a1a1a">SMF<tspan font-size="9.5" dy="3">50</tspan></text>
<text x="452.5" y="509.8" font-size="13" font-weight="bold" text-anchor="middle" fill="#1a1a1a">SMF<tspan font-size="9.5" dy="3">100</tspan></text>
<text x="606.5" y="509.8" font-size="13" font-weight="bold" text-anchor="middle" fill="#1a1a1a">SMF<tspan font-size="9.5" dy="3">200</tspan></text>
<rect x="77.5" y="273.3" width="18.5" height="6.5" fill="#9a9a9a" stroke="#222" stroke-width="2"/>
<text x="106.2" y="280.6" font-size="13" fill="#1a1a1a" textLength="40.6" lengthAdjust="spacingAndGlyphs" xml:space="preserve">Control</text>
<rect x="158.2" y="273.3" width="18.5" height="6.5" fill="#eda35a" stroke="#222" stroke-width="2"/>
<text x="186.5" y="280.6" font-size="13" fill="#1a1a1a" textLength="85.10000000000001" lengthAdjust="spacingAndGlyphs" xml:space="preserve">25 µg/ml Fe<tspan font-size="9" dy="2.5">3</tspan><tspan dy="-2.5">O</tspan><tspan font-size="9" dy="2.5">4</tspan></text>
<rect x="282.5" y="273.3" width="18.5" height="6.5" fill="#2fd92f" stroke="#222" stroke-width="2"/>
<text x="310.5" y="280.6" font-size="13" fill="#1a1a1a" textLength="88.10000000000001" lengthAdjust="spacingAndGlyphs" xml:space="preserve">50 µg/ml  Fe<tspan font-size="9" dy="2.5">3</tspan><tspan dy="-2.5">O</tspan><tspan font-size="9" dy="2.5">4</tspan></text>
<rect x="413" y="273.3" width="18.5" height="6.5" fill="#b05fcc" stroke="#222" stroke-width="2"/>
<text x="441.09999999999997" y="280.6" font-size="13" fill="#1a1a1a" textLength="96.5" lengthAdjust="spacingAndGlyphs" xml:space="preserve">100 µg/ml  Fe<tspan font-size="9" dy="2.5">3</tspan><tspan dy="-2.5">O</tspan><tspan font-size="9" dy="2.5">4</tspan></text>
<rect x="546.2" y="273.3" width="18.5" height="6.5" fill="#4f5be0" stroke="#222" stroke-width="2"/>
<text x="574.2" y="280.6" font-size="13" fill="#1a1a1a" textLength="96.60000000000001" lengthAdjust="spacingAndGlyphs" xml:space="preserve">200 µg/ml  Fe<tspan font-size="9" dy="2.5">3</tspan><tspan dy="-2.5">O</tspan><tspan font-size="9" dy="2.5">4</tspan></text>
<line x1="72.47" y1="715.2" x2="72.47" y2="711.9" stroke="#1a1a1a" stroke-width="1.8"/><line x1="69.47" y1="711.9" x2="75.47" y2="711.9" stroke="#1a1a1a" stroke-width="1.8"/><rect x="66.97" y="715.2" width="11" height="42.3" fill="#666666" stroke="#1a1a1a" stroke-width="1.7"/><line x1="89.22" y1="703.5" x2="89.22" y2="700.1" stroke="#1a1a1a" stroke-width="1.8"/><line x1="86.22" y1="700.1" x2="92.22" y2="700.1" stroke="#1a1a1a" stroke-width="1.8"/><rect x="83.72" y="703.5" width="11" height="54.0" fill="#ff6a00" stroke="#1a1a1a" stroke-width="1.7"/><line x1="105.97" y1="701.8" x2="105.97" y2="697.6" stroke="#1a1a1a" stroke-width="1.8"/><line x1="102.97" y1="697.6" x2="108.97" y2="697.6" stroke="#1a1a1a" stroke-width="1.8"/><rect x="100.47" y="701.8" width="11" height="55.7" fill="#0a7d0a" stroke="#1a1a1a" stroke-width="1.7"/><line x1="122.72" y1="716.9" x2="122.72" y2="713.5" stroke="#1a1a1a" stroke-width="1.8"/><line x1="119.72" y1="713.5" x2="125.72" y2="713.5" stroke="#1a1a1a" stroke-width="1.8"/><rect x="117.22" y="716.9" width="11" height="40.6" fill="#7a00a0" stroke="#1a1a1a" stroke-width="1.7"/><line x1="97.60" y1="757.5" x2="97.60" y2="762.5" stroke="#111" stroke-width="1.8"/><line x1="173.97" y1="670.3" x2="173.97" y2="664.4" stroke="#1a1a1a" stroke-width="1.8"/><line x1="170.97" y1="664.4" x2="176.97" y2="664.4" stroke="#1a1a1a" stroke-width="1.8"/><rect x="168.47" y="670.3" width="11" height="87.2" fill="#666666" stroke="#1a1a1a" stroke-width="1.7"/><line x1="190.72" y1="641.5" x2="190.72" y2="634.8" stroke="#1a1a1a" stroke-width="1.8"/><line x1="187.72" y1="634.8" x2="193.72" y2="634.8" stroke="#1a1a1a" stroke-width="1.8"/><rect x="185.22" y="641.5" width="11" height="116.0" fill="#ff6a00" stroke="#1a1a1a" stroke-width="1.7"/><line x1="207.47" y1="615.5" x2="207.47" y2="604.6" stroke="#1a1a1a" stroke-width="1.8"/><line x1="204.47" y1="604.6" x2="210.47" y2="604.6" stroke="#1a1a1a" stroke-width="1.8"/><rect x="201.97" y="615.5" width="11" height="142.0" fill="#0a7d0a" stroke="#1a1a1a" stroke-width="1.7"/><line x1="224.22" y1="678.4" x2="224.22" y2="670.8" stroke="#1a1a1a" stroke-width="1.8"/><line x1="221.22" y1="670.8" x2="227.22" y2="670.8" stroke="#1a1a1a" stroke-width="1.8"/><rect x="218.72" y="678.4" width="11" height="79.1" fill="#7a00a0" stroke="#1a1a1a" stroke-width="1.7"/><line x1="199.10" y1="757.5" x2="199.10" y2="762.5" stroke="#111" stroke-width="1.8"/><line x1="275.07" y1="612.1" x2="275.07" y2="602.9" stroke="#1a1a1a" stroke-width="1.8"/><line x1="272.07" y1="602.9" x2="278.07" y2="602.9" stroke="#1a1a1a" stroke-width="1.8"/><rect x="269.57" y="612.1" width="11" height="145.4" fill="#666666" stroke="#1a1a1a" stroke-width="1.7"/><line x1="291.82" y1="602.1" x2="291.82" y2="590.4" stroke="#1a1a1a" stroke-width="1.8"/><line x1="288.82" y1="590.4" x2="294.82" y2="590.4" stroke="#1a1a1a" stroke-width="1.8"/><rect x="286.32" y="602.1" width="11" height="155.4" fill="#ff6a00" stroke="#1a1a1a" stroke-width="1.7"/><line x1="308.57" y1="586.2" x2="308.57" y2="573.6" stroke="#1a1a1a" stroke-width="1.8"/><line x1="305.57" y1="573.6" x2="311.57" y2="573.6" stroke="#1a1a1a" stroke-width="1.8"/><rect x="303.07" y="586.2" width="11" height="171.3" fill="#0a7d0a" stroke="#1a1a1a" stroke-width="1.7"/><line x1="325.32" y1="649.9" x2="325.32" y2="640.6" stroke="#1a1a1a" stroke-width="1.8"/><line x1="322.32" y1="640.6" x2="328.32" y2="640.6" stroke="#1a1a1a" stroke-width="1.8"/><rect x="319.82" y="649.9" width="11" height="107.6" fill="#7a00a0" stroke="#1a1a1a" stroke-width="1.7"/><line x1="300.20" y1="757.5" x2="300.20" y2="762.5" stroke="#111" stroke-width="1.8"/>
<path d="M58.8,548.0 L58.8,757.5 L340.5,757.5" fill="none" stroke="#111" stroke-width="2"/>
<line x1="53.3" y1="757.5" x2="58.8" y2="757.5" stroke="#111" stroke-width="1.8"/>
<text x="41.35" y="762.80" font-size="15.5" font-weight="bold" text-anchor="middle" textLength="20.10" lengthAdjust="spacingAndGlyphs" fill="#1a1a1a">0.0</text>
<line x1="53.3" y1="715.6" x2="58.8" y2="715.6" stroke="#111" stroke-width="1.8"/>
<text x="41.35" y="720.90" font-size="15.5" font-weight="bold" text-anchor="middle" textLength="20.10" lengthAdjust="spacingAndGlyphs" fill="#1a1a1a">0.5</text>
<line x1="53.3" y1="673.7" x2="58.8" y2="673.7" stroke="#111" stroke-width="1.8"/>
<text x="41.35" y="679.00" font-size="15.5" font-weight="bold" text-anchor="middle" textLength="20.10" lengthAdjust="spacingAndGlyphs" fill="#1a1a1a">1.0</text>
<line x1="53.3" y1="631.8" x2="58.8" y2="631.8" stroke="#111" stroke-width="1.8"/>
<text x="41.35" y="637.10" font-size="15.5" font-weight="bold" text-anchor="middle" textLength="20.10" lengthAdjust="spacingAndGlyphs" fill="#1a1a1a">1.5</text>
<line x1="53.3" y1="589.9" x2="58.8" y2="589.9" stroke="#111" stroke-width="1.8"/>
<text x="41.35" y="595.20" font-size="15.5" font-weight="bold" text-anchor="middle" textLength="20.10" lengthAdjust="spacingAndGlyphs" fill="#1a1a1a">2.0</text>
<line x1="53.3" y1="548.0" x2="58.8" y2="548.0" stroke="#111" stroke-width="1.8"/>
<text x="41.35" y="553.30" font-size="15.5" font-weight="bold" text-anchor="middle" textLength="20.10" lengthAdjust="spacingAndGlyphs" fill="#1a1a1a">2.5</text>
<text transform="translate(22.4,650.5) rotate(-90)" font-size="15" textLength="97" lengthAdjust="spacingAndGlyphs" font-weight="bold" text-anchor="middle" fill="#1a1a1a">OD (450nm)</text>
<text x="97.55" y="779.80" font-size="15.3" font-weight="bold" text-anchor="middle" textLength="34.50" lengthAdjust="spacingAndGlyphs" fill="#1a1a1a">Day1</text>
<text x="199.25" y="779.80" font-size="15.3" font-weight="bold" text-anchor="middle" textLength="33.90" lengthAdjust="spacingAndGlyphs" fill="#1a1a1a">Day3</text>
<text x="300.65" y="779.80" font-size="15.3" font-weight="bold" text-anchor="middle" textLength="34.10" lengthAdjust="spacingAndGlyphs" fill="#1a1a1a">Day5</text>
<text x="199.05" y="810.00" font-size="17" font-weight="bold" text-anchor="middle" textLength="93.50" lengthAdjust="spacingAndGlyphs" fill="#1a1a1a">Culture Time</text>
<rect x="72.5" y="553.6" width="19.5" height="7.5" fill="#666666" stroke="#1a1a1a" stroke-width="1.8"/>
<text x="103.2" y="562.8" font-size="13.4" font-weight="normal" text-anchor="start" fill="#1a1a1a" >0 mT</text>
<rect x="72.5" y="582.1" width="19.5" height="7.5" fill="#ff6a00" stroke="#1a1a1a" stroke-width="1.8"/>
<text x="103.2" y="591.3" font-size="13.4" font-weight="normal" text-anchor="start" fill="#1a1a1a" >50 mT</text>
<rect x="72.5" y="610.6" width="19.5" height="7.5" fill="#0a7d0a" stroke="#1a1a1a" stroke-width="1.8"/>
<text x="103.2" y="619.8" font-size="13.4" font-weight="normal" text-anchor="start" fill="#1a1a1a" >100 mT</text>
<rect x="72.5" y="639.1" width="19.5" height="7.5" fill="#7a00a0" stroke="#1a1a1a" stroke-width="1.8"/>
<text x="103.2" y="648.3" font-size="13.4" font-weight="normal" text-anchor="start" fill="#1a1a1a" >200 mT</text>
<path d="M170.3,622.0999999999999 L170.3,630.5 M170.3,626.3 L189.8,626.3 M189.8,622.0999999999999 L189.8,630.5" stroke="#3a3a3a" stroke-width="1.5" fill="none"/>
<polygon points="174.15,618.20 173.33,620.17 171.20,620.34 172.82,621.73 172.33,623.81 174.15,622.69 175.97,623.81 175.48,621.73 177.10,620.34 174.97,620.17" fill="#262626"/>
<polygon points="180.05,618.20 179.23,620.17 177.10,620.34 178.72,621.73 178.23,623.81 180.05,622.69 181.87,623.81 181.38,621.73 183.00,620.34 180.87,620.17" fill="#262626"/>
<polygon points="185.95,618.20 185.13,620.17 183.00,620.34 184.62,621.73 184.13,623.81 185.95,622.69 187.77,623.81 187.28,621.73 188.90,620.34 186.77,620.17" fill="#262626"/>
<path d="M168,590.5999999999999 L168,599.0 M168,594.8 L206.8,594.8 M206.8,590.5999999999999 L206.8,599.0" stroke="#3a3a3a" stroke-width="1.5" fill="none"/>
<polygon points="181.50,586.70 180.68,588.67 178.55,588.84 180.17,590.23 179.68,592.31 181.50,591.19 183.32,592.31 182.83,590.23 184.45,588.84 182.32,588.67" fill="#262626"/>
<polygon points="187.40,586.70 186.58,588.67 184.45,588.84 186.07,590.23 185.58,592.31 187.40,591.19 189.22,592.31 188.73,590.23 190.35,588.84 188.22,588.67" fill="#262626"/>
<polygon points="193.30,586.70 192.48,588.67 190.35,588.84 191.97,590.23 191.48,592.31 193.30,591.19 195.12,592.31 194.63,590.23 196.25,588.84 194.12,588.67" fill="#262626"/>
<path d="M188.7,574.1999999999999 L188.7,582.6 M188.7,578.4 L208.2,578.4 M208.2,574.1999999999999 L208.2,582.6" stroke="#3a3a3a" stroke-width="1.5" fill="none"/>
<polygon points="192.55,570.30 191.73,572.27 189.60,572.44 191.22,573.83 190.73,575.91 192.55,574.79 194.37,575.91 193.88,573.83 195.50,572.44 193.37,572.27" fill="#262626"/>
<polygon points="198.45,570.30 197.63,572.27 195.50,572.44 197.12,573.83 196.63,575.91 198.45,574.79 200.27,575.91 199.78,573.83 201.40,572.44 199.27,572.27" fill="#262626"/>
<polygon points="204.35,570.30 203.53,572.27 201.40,572.44 203.02,573.83 202.53,575.91 204.35,574.79 206.17,575.91 205.68,573.83 207.30,572.44 205.17,572.27" fill="#262626"/>
<path d="M209.6,594.3 L209.6,602.7 M209.6,598.5 L229.4,598.5 M229.4,594.3 L229.4,602.7" stroke="#3a3a3a" stroke-width="1.5" fill="none"/>
<polygon points="213.60,590.40 212.78,592.37 210.65,592.54 212.27,593.93 211.78,596.01 213.60,594.89 215.42,596.01 214.93,593.93 216.55,592.54 214.42,592.37" fill="#262626"/>
<polygon points="219.50,590.40 218.68,592.37 216.55,592.54 218.17,593.93 217.68,596.01 219.50,594.89 221.32,596.01 220.83,593.93 222.45,592.54 220.32,592.37" fill="#262626"/>
<polygon points="225.40,590.40 224.58,592.37 222.45,592.54 224.07,593.93 223.58,596.01 225.40,594.89 227.22,596.01 226.73,593.93 228.35,592.54 226.22,592.37" fill="#262626"/>
<path d="M293.7,537.8 L293.7,546.2 M293.7,542 L313.4,542 M313.4,537.8 L313.4,546.2" stroke="#3a3a3a" stroke-width="1.5" fill="none"/>
<polygon points="303.55,533.90 302.73,535.87 300.60,536.04 302.22,537.43 301.73,539.51 303.55,538.39 305.37,539.51 304.88,537.43 306.50,536.04 304.37,535.87" fill="#262626"/>
<path d="M273.6,558.6999999999999 L273.6,567.1 M273.6,562.9 L312,562.9 M312,558.6999999999999 L312,567.1" stroke="#3a3a3a" stroke-width="1.5" fill="none"/>
<polygon points="286.90,554.80 286.08,556.77 283.95,556.94 285.57,558.33 285.08,560.41 286.90,559.29 288.72,560.41 288.23,558.33 289.85,556.94 287.72,556.77" fill="#262626"/>
<polygon points="292.80,554.80 291.98,556.77 289.85,556.94 291.47,558.33 290.98,560.41 292.80,559.29 294.62,560.41 294.13,558.33 295.75,556.94 293.62,556.77" fill="#262626"/>
<polygon points="298.70,554.80 297.88,556.77 295.75,556.94 297.37,558.33 296.88,560.41 298.70,559.29 300.52,560.41 300.03,558.33 301.65,556.94 299.52,556.77" fill="#262626"/>
<path d="M314.6,566.0 L314.6,574.4000000000001 M314.6,570.2 L334.7,570.2 M334.7,566.0 L334.7,574.4000000000001" stroke="#3a3a3a" stroke-width="1.5" fill="none"/>
<polygon points="318.75,562.10 317.93,564.07 315.80,564.24 317.42,565.63 316.93,567.71 318.75,566.60 320.57,567.71 320.08,565.63 321.70,564.24 319.57,564.07" fill="#262626"/>
<polygon points="324.65,562.10 323.83,564.07 321.70,564.24 323.32,565.63 322.83,567.71 324.65,566.60 326.47,567.71 325.98,565.63 327.60,564.24 325.47,564.07" fill="#262626"/>
<polygon points="330.55,562.10 329.73,564.07 327.60,564.24 329.22,565.63 328.73,567.71 330.55,566.60 332.37,567.71 331.88,565.63 333.50,564.24 331.37,564.07" fill="#262626"/>
<g clip-path="url(#dclip)"><rect x="379" y="523" width="313" height="297" fill="#a8a8a8"/><g filter="url(#mott)"><path d="M392.0,515.0 C378.3,519.2 390.3,533.0 391.0,540.0 C391.7,547.0 393.8,551.2 396.0,557.0 C398.2,562.8 400.8,569.5 404.0,575.0 C407.2,580.5 410.7,585.2 415.0,590.0 C419.3,594.8 424.8,600.5 430.0,604.0 C435.2,607.5 440.3,609.7 446.0,611.0 C451.7,612.3 458.7,612.7 464.0,612.0 C469.3,611.3 473.8,609.5 478.0,607.0 C482.2,604.5 486.3,601.3 489.0,597.0 C491.7,592.7 493.7,586.2 494.0,581.0 C494.3,575.8 492.5,571.5 491.0,566.0 C489.5,560.5 487.2,553.7 485.0,548.0 C482.8,542.3 480.0,537.5 478.0,532.0 C476.0,526.5 487.3,517.8 473.0,515.0 C458.7,512.2 405.7,510.8 392.0,515.0 Z" fill="#878787" stroke="#7c7c7c" stroke-width="1.2"/><path d="M486.0,515.0 C476.7,520.0 483.8,536.7 484.0,545.0 C484.2,553.3 484.8,559.5 487.0,565.0 C489.2,570.5 492.3,575.3 497.0,578.0 C501.7,580.7 508.8,581.0 515.0,581.0 C521.2,581.0 529.3,580.7 534.0,578.0 C538.7,575.3 541.2,571.3 543.0,565.0 C544.8,558.7 545.5,548.3 545.0,540.0 C544.5,531.7 549.8,519.2 540.0,515.0 C530.2,510.8 495.3,510.0 486.0,515.0 Z" fill="#878787" stroke="#7c7c7c" stroke-width="1.2"/><path d="M550.0,515.0 C534.7,520.0 547.7,535.8 548.0,545.0 C548.3,554.2 549.2,563.5 552.0,570.0 C554.8,576.5 559.5,580.3 565.0,584.0 C570.5,587.7 578.3,590.2 585.0,592.0 C591.7,593.8 599.5,595.7 605.0,595.0 C610.5,594.3 614.5,591.8 618.0,588.0 C621.5,584.2 622.7,578.0 626.0,572.0 C629.3,566.0 635.3,558.2 638.0,552.0 C640.7,545.8 641.7,541.2 642.0,535.0 C642.3,528.8 655.3,518.3 640.0,515.0 C624.7,511.7 565.3,510.0 550.0,515.0 Z" fill="#878787" stroke="#7c7c7c" stroke-width="1.2"/><path d="M652.0,532.0 C651.2,539.5 649.5,550.3 650.0,560.0 C650.5,569.7 652.0,581.3 655.0,590.0 C658.0,598.7 661.3,606.7 668.0,612.0 C674.7,617.3 690.0,638.2 695.0,622.0 C700.0,605.8 704.7,532.8 698.0,515.0 C691.3,497.2 662.7,512.2 655.0,515.0 C647.3,517.8 652.8,524.5 652.0,532.0 Z" fill="#878787" stroke="#7c7c7c" stroke-width="1.2"/><path d="M499.0,648.0 C499.3,653.9 497.2,661.1 493.9,666.0 C490.6,670.9 484.5,674.8 479.0,677.5 C473.5,680.2 467.1,681.9 461.0,682.1 C454.9,682.4 447.5,681.7 442.1,678.9 C436.7,676.2 431.6,670.9 428.5,665.7 C425.4,660.6 423.5,653.8 423.6,648.0 C423.8,642.2 426.2,635.8 429.3,630.7 C432.5,625.6 437.1,620.5 442.4,617.5 C447.7,614.5 454.8,612.8 461.0,612.8 C467.2,612.8 474.4,614.5 479.6,617.5 C484.8,620.6 489.1,625.8 492.4,630.9 C495.6,635.9 498.8,642.1 499.0,648.0 Z" fill="#878787" stroke="#7c7c7c" stroke-width="1.2"/><path d="M423.7,685.0 C423.7,690.2 422.9,696.1 421.1,700.5 C419.3,705.0 416.1,709.0 412.9,711.6 C409.7,714.2 405.7,716.1 402.0,716.2 C398.3,716.3 394.0,714.7 390.9,712.0 C387.8,709.4 385.2,704.6 383.4,700.1 C381.7,695.6 380.8,690.2 380.6,685.0 C380.5,679.8 380.8,673.6 382.6,669.2 C384.3,664.8 387.9,661.0 391.2,658.5 C394.4,656.1 398.3,654.7 402.0,654.5 C405.7,654.3 410.2,654.8 413.3,657.4 C416.5,659.9 419.3,664.9 421.0,669.5 C422.7,674.1 423.6,679.8 423.7,685.0 Z" fill="#878787" stroke="#7c7c7c" stroke-width="1.2"/><path d="M380.0,600.0 C381.3,596.2 386.8,599.3 388.0,603.0 C389.2,606.7 388.3,618.2 387.0,622.0 C385.7,625.8 381.2,629.7 380.0,626.0 C378.8,622.3 378.7,603.8 380.0,600.0 Z" fill="#878787" stroke="#7c7c7c" stroke-width="1.2"/><path d="M475.6,726.0 C475.6,732.4 474.2,739.4 472.1,745.0 C470.1,750.6 466.9,756.4 463.4,759.6 C459.9,762.8 455.1,764.3 451.0,764.2 C446.9,764.1 442.4,762.0 438.8,758.9 C435.2,755.8 431.7,750.9 429.5,745.4 C427.2,739.9 425.5,732.5 425.4,726.0 C425.3,719.5 426.8,711.9 429.0,706.1 C431.1,700.4 434.6,694.8 438.3,691.7 C442.0,688.6 446.8,687.6 451.0,687.7 C455.2,687.7 460.0,689.0 463.5,692.2 C467.1,695.3 470.3,701.1 472.4,706.8 C474.4,712.4 475.6,719.6 475.6,726.0 Z" fill="#878787" stroke="#7c7c7c" stroke-width="1.2"/><path d="M433.0,751.0 C440.5,748.0 444.5,753.8 450.0,757.0 C455.5,760.2 463.0,764.5 466.0,770.0 C469.0,775.5 469.8,783.0 468.0,790.0 C466.2,797.0 462.2,807.3 455.0,812.0 C447.8,816.7 434.8,817.5 425.0,818.0 C415.2,818.5 401.8,818.0 396.0,815.0 C390.2,812.0 388.5,806.7 390.0,800.0 C391.5,793.3 397.8,783.2 405.0,775.0 C412.2,766.8 425.5,754.0 433.0,751.0 Z" fill="#878787" stroke="#7c7c7c" stroke-width="1.2"/><path d="M704.2,665.0 C704.3,671.0 703.1,678.0 701.2,683.3 C699.3,688.5 696.1,693.6 692.7,696.7 C689.3,699.8 684.9,702.0 681.0,702.0 C677.1,701.9 672.7,699.7 669.3,696.6 C665.9,693.5 662.4,688.7 660.6,683.5 C658.8,678.2 658.6,671.1 658.6,665.0 C658.7,658.9 659.4,652.4 661.1,647.0 C662.9,641.7 665.9,636.1 669.2,633.0 C672.5,629.9 677.1,628.7 681.0,628.7 C684.9,628.7 689.5,629.9 692.8,633.1 C696.0,636.2 698.6,642.1 700.5,647.4 C702.4,652.7 704.0,659.0 704.2,665.0 Z" fill="#878787" stroke="#7c7c7c" stroke-width="1.2"/><path d="M671.9,734.0 C671.9,740.6 670.8,748.3 668.9,753.9 C666.9,759.5 663.6,764.7 660.2,767.7 C656.9,770.8 652.7,772.6 649.0,772.4 C645.3,772.3 641.4,769.9 638.1,766.8 C634.8,763.6 631.2,759.2 629.3,753.7 C627.4,748.2 626.6,740.6 626.5,734.0 C626.5,727.4 627.3,719.8 629.2,714.2 C631.1,708.6 634.5,703.8 637.8,700.5 C641.1,697.2 645.3,694.3 649.0,694.4 C652.7,694.4 656.8,697.4 660.1,700.7 C663.4,704.0 666.9,708.6 668.8,714.1 C670.8,719.7 671.9,727.4 671.9,734.0 Z" fill="#878787" stroke="#7c7c7c" stroke-width="1.2"/><path d="M682.7,805.0 C682.7,809.9 681.0,815.3 678.7,819.7 C676.5,824.1 673.1,828.8 669.1,831.2 C665.2,833.6 659.7,834.3 655.0,834.2 C650.3,834.2 645.0,833.4 641.0,831.0 C637.0,828.6 633.2,824.2 630.9,819.9 C628.7,815.5 627.8,810.0 627.7,805.0 C627.7,800.0 628.5,794.2 630.7,790.0 C633.0,785.8 637.3,782.2 641.4,779.7 C645.4,777.3 650.5,775.1 655.0,775.1 C659.5,775.1 664.7,777.1 668.6,779.7 C672.6,782.2 676.3,786.1 678.7,790.4 C681.0,794.6 682.7,800.1 682.7,805.0 Z" fill="#878787" stroke="#7c7c7c" stroke-width="1.2"/><path d="M576.0,627.0 C576.1,632.1 575.5,637.7 573.7,642.4 C571.8,647.0 568.4,651.3 565.0,654.9 C561.5,658.5 557.4,662.0 553.0,663.9 C548.6,665.8 543.3,666.5 538.5,666.5 C533.7,666.4 528.6,665.4 524.1,663.6 C519.7,661.7 515.0,659.0 511.6,655.4 C508.2,651.9 505.7,646.9 503.9,642.1 C502.1,637.4 500.7,632.1 500.7,627.0 C500.7,621.9 501.8,616.5 503.7,611.8 C505.6,607.1 508.5,602.5 511.9,598.9 C515.3,595.3 519.6,592.1 524.1,590.2 C528.5,588.3 533.7,587.5 538.5,587.4 C543.3,587.4 548.6,588.0 553.0,590.0 C557.4,591.9 561.6,595.4 564.9,599.1 C568.3,602.7 571.3,607.2 573.1,611.9 C575.0,616.5 575.9,621.9 576.0,627.0 Z" fill="#878787" stroke="#7c7c7c" stroke-width="1.2"/><path d="M636.0,515.0 C631.3,517.8 637.7,527.8 640.0,532.0 C642.3,536.2 646.3,539.5 650.0,540.0 C653.7,540.5 659.0,539.2 662.0,535.0 C665.0,530.8 672.3,518.3 668.0,515.0 C663.7,511.7 640.7,512.2 636.0,515.0 Z" fill="#878787" stroke="#7c7c7c" stroke-width="1.2"/></g></g><ellipse cx="440" cy="560" rx="10" ry="6" transform="rotate(20 440 560)" fill="#747474" opacity="0.8"/><ellipse cx="456" cy="658" rx="9" ry="7" transform="rotate(0 456 658)" fill="#747474" opacity="0.8"/><ellipse cx="552" cy="626" rx="10" ry="5" transform="rotate(-15 552 626)" fill="#747474" opacity="0.8"/><ellipse cx="612" cy="560" rx="8" ry="5" transform="rotate(0 612 560)" fill="#747474" opacity="0.8"/><ellipse cx="420" cy="790" rx="6" ry="4" transform="rotate(0 420 790)" fill="#747474" opacity="0.8"/><g transform="rotate(35 473 587)"><ellipse cx="472.6" cy="588.2" rx="4.1" ry="7.1" fill="#555" opacity="0.45"/><ellipse cx="473.1" cy="588.7" rx="2.8" ry="7.2" fill="#555" opacity="0.45"/><ellipse cx="474.2" cy="592.9" rx="2.7" ry="6.5" fill="#555" opacity="0.45"/><ellipse cx="469.2" cy="593.2" rx="3.7" ry="5.6" fill="#555" opacity="0.45"/><ellipse cx="477.5" cy="596.3" rx="3.6" ry="7.6" fill="#555" opacity="0.45"/><ellipse cx="469.8" cy="577.3" rx="3.4" ry="5.6" fill="#555" opacity="0.45"/><rect x="468.1" y="578.7" width="1.1" height="1.0" fill="#1c1c1c" opacity="0.9"/><rect x="476.7" y="586.5" width="2.2" height="2.4" fill="#1c1c1c" opacity="0.9"/><rect x="471.0" y="578.9" width="2.8" height="3.6" fill="#5a5a5a" opacity="0.9"/><rect x="475.2" y="580.8" width="1.4" height="0.9" fill="#1c1c1c" opacity="0.9"/><rect x="475.5" y="582.8" width="2.5" height="3.4" fill="#1c1c1c" opacity="0.9"/><rect x="471.7" y="600.6" width="1.7" height="1.9" fill="#1c1c1c" opacity="0.9"/><rect x="476.3" y="579.5" width="1.2" height="1.6" fill="#1c1c1c" opacity="0.9"/><rect x="475.9" y="574.8" width="1.4" height="0.9" fill="#1c1c1c" opacity="0.9"/><rect x="476.2" y="576.3" width="2.0" height="1.5" fill="#1c1c1c" opacity="0.9"/><rect x="475.2" y="574.8" width="2.2" height="2.0" fill="#1c1c1c" opacity="0.9"/><rect x="467.6" y="578.7" width="2.7" height="2.3" fill="#5a5a5a" opacity="0.9"/><rect x="477.5" y="577.5" width="1.7" height="1.9" fill="#5a5a5a" opacity="0.9"/><rect x="467.8" y="578.6" width="2.4" height="2.0" fill="#1c1c1c" opacity="0.9"/><rect x="473.1" y="578.2" width="2.1" height="2.0" fill="#1c1c1c" opacity="0.9"/><rect x="478.4" y="585.5" width="2.0" height="1.5" fill="#5a5a5a" opacity="0.9"/><rect x="476.8" y="578.8" width="1.3" height="1.8" fill="#cfcfcf" opacity="0.9"/><rect x="477.5" y="589.2" width="1.8" height="1.1" fill="#1c1c1c" opacity="0.9"/><rect x="474.6" y="578.5" width="2.5" height="2.1" fill="#cfcfcf" opacity="0.9"/><rect x="467.9" y="593.0" width="1.1" height="1.2" fill="#1c1c1c" opacity="0.9"/><rect x="477.2" y="589.7" width="1.5" height="1.1" fill="#5a5a5a" opacity="0.9"/><rect x="471.6" y="573.2" width="1.3" height="1.4" fill="#1c1c1c" opacity="0.9"/><rect x="466.5" y="581.6" width="2.6" height="2.9" fill="#5a5a5a" opacity="0.9"/><rect x="475.1" y="588.9" width="1.3" height="0.8" fill="#1c1c1c" opacity="0.9"/><rect x="477.4" y="591.7" width="2.7" height="3.0" fill="#1c1c1c" opacity="0.9"/><rect x="472.0" y="593.1" width="1.6" height="1.0" fill="#5a5a5a" opacity="0.9"/><rect x="472.3" y="592.8" width="2.6" height="3.0" fill="#cfcfcf" opacity="0.9"/><rect x="469.6" y="591.2" width="2.6" height="2.4" fill="#5a5a5a" opacity="0.9"/><rect x="476.1" y="596.9" width="2.0" height="1.8" fill="#cfcfcf" opacity="0.9"/><rect x="473.6" y="589.7" width="1.1" height="1.6" fill="#cfcfcf" opacity="0.9"/><rect x="477.5" y="593.0" width="1.7" height="1.8" fill="#cfcfcf" opacity="0.9"/><rect x="471.6" y="596.6" width="1.2" height="0.7" fill="#5a5a5a" opacity="0.9"/><rect x="473.7" y="585.7" width="1.4" height="1.4" fill="#cfcfcf" opacity="0.9"/><rect x="473.9" y="598.9" width="1.5" height="1.2" fill="#1c1c1c" opacity="0.9"/><rect x="474.8" y="577.4" width="1.3" height="1.5" fill="#5a5a5a" opacity="0.9"/><rect x="471.4" y="598.0" width="1.6" height="1.2" fill="#cfcfcf" opacity="0.9"/><rect x="470.7" y="594.9" width="2.6" height="2.4" fill="#5a5a5a" opacity="0.9"/><rect x="473.5" y="580.9" width="1.2" height="1.6" fill="#1c1c1c" opacity="0.9"/><rect x="476.5" y="592.0" width="2.7" height="2.0" fill="#1c1c1c" opacity="0.9"/><rect x="471.6" y="579.6" width="1.4" height="1.5" fill="#1c1c1c" opacity="0.9"/><rect x="471.7" y="580.2" width="2.5" height="2.4" fill="#5a5a5a" opacity="0.9"/><rect x="475.1" y="588.3" width="1.6" height="1.0" fill="#5a5a5a" opacity="0.9"/><rect x="467.4" y="585.1" width="1.0" height="0.8" fill="#5a5a5a" opacity="0.9"/><rect x="473.7" y="584.3" width="2.1" height="2.7" fill="#cfcfcf" opacity="0.9"/><rect x="478.7" y="591.9" width="1.4" height="1.0" fill="#1c1c1c" opacity="0.9"/><rect x="465.0" y="585.0" width="2.3" height="1.9" fill="#1c1c1c" opacity="0.9"/><rect x="469.9" y="592.0" width="1.9" height="2.3" fill="#cfcfcf" opacity="0.9"/><rect x="470.2" y="594.4" width="2.6" height="3.5" fill="#1c1c1c" opacity="0.9"/><rect x="475.2" y="575.0" width="1.8" height="2.4" fill="#cfcfcf" opacity="0.9"/><rect x="470.0" y="587.8" width="2.6" height="3.5" fill="#5a5a5a" opacity="0.9"/><rect x="471.8" y="590.9" width="1.4" height="1.7" fill="#cfcfcf" opacity="0.9"/><rect x="474.3" y="592.8" width="1.4" height="1.9" fill="#5a5a5a" opacity="0.9"/><rect x="478.5" y="586.9" width="2.4" height="3.2" fill="#1c1c1c" opacity="0.9"/><rect x="477.4" y="581.9" width="1.1" height="1.2" fill="#1c1c1c" opacity="0.9"/><rect x="476.2" y="586.1" width="1.1" height="0.7" fill="#5a5a5a" opacity="0.9"/><rect x="476.4" y="576.4" width="1.6" height="1.1" fill="#5a5a5a" opacity="0.9"/><rect x="466.9" y="586.3" width="2.3" height="2.7" fill="#5a5a5a" opacity="0.9"/><rect x="477.9" y="585.4" width="2.7" height="2.1" fill="#1c1c1c" opacity="0.9"/><rect x="472.2" y="579.5" width="2.3" height="2.4" fill="#cfcfcf" opacity="0.9"/><rect x="477.0" y="588.0" width="1.6" height="2.0" fill="#1c1c1c" opacity="0.9"/><rect x="477.3" y="577.0" width="2.5" height="2.6" fill="#5a5a5a" opacity="0.9"/><rect x="473.0" y="577.0" width="2.0" height="2.1" fill="#cfcfcf" opacity="0.9"/><rect x="472.0" y="582.8" width="2.4" height="2.4" fill="#cfcfcf" opacity="0.9"/><rect x="474.7" y="573.0" width="2.0" height="2.7" fill="#1c1c1c" opacity="0.9"/><rect x="478.0" y="579.2" width="1.9" height="1.8" fill="#1c1c1c" opacity="0.9"/><rect x="472.0" y="580.8" width="1.3" height="1.8" fill="#cfcfcf" opacity="0.9"/><rect x="467.3" y="594.9" width="1.0" height="0.8" fill="#1c1c1c" opacity="0.9"/><rect x="474.8" y="580.8" width="1.6" height="1.1" fill="#cfcfcf" opacity="0.9"/><rect x="475.3" y="574.7" width="1.9" height="1.5" fill="#1c1c1c" opacity="0.9"/><rect x="472.6" y="584.3" width="1.7" height="1.7" fill="#1c1c1c" opacity="0.9"/><rect x="467.2" y="577.1" width="2.1" height="2.2" fill="#cfcfcf" opacity="0.9"/><rect x="476.6" y="589.1" width="2.5" height="3.0" fill="#1c1c1c" opacity="0.9"/><rect x="469.1" y="580.1" width="2.7" height="3.7" fill="#1c1c1c" opacity="0.9"/><rect x="468.6" y="593.1" width="1.5" height="1.9" fill="#1c1c1c" opacity="0.9"/><rect x="471.3" y="595.1" width="1.2" height="1.4" fill="#1c1c1c" opacity="0.9"/><rect x="474.2" y="598.0" width="2.7" height="2.8" fill="#1c1c1c" opacity="0.9"/><rect x="475.5" y="586.0" width="2.2" height="1.5" fill="#1c1c1c" opacity="0.9"/><rect x="472.7" y="586.4" width="2.0" height="1.5" fill="#1c1c1c" opacity="0.9"/><rect x="467.5" y="595.8" width="2.8" height="1.9" fill="#5a5a5a" opacity="0.9"/><rect x="471.7" y="594.1" width="1.6" height="1.6" fill="#1c1c1c" opacity="0.9"/><rect x="471.5" y="589.5" width="1.0" height="1.3" fill="#cfcfcf" opacity="0.9"/><rect x="467.4" y="584.5" width="2.3" height="1.8" fill="#1c1c1c" opacity="0.9"/><rect x="467.8" y="586.9" width="1.0" height="1.3" fill="#5a5a5a" opacity="0.9"/><rect x="474.8" y="596.8" width="2.1" height="2.3" fill="#1c1c1c" opacity="0.9"/><rect x="471.8" y="600.3" width="2.4" height="3.3" fill="#1c1c1c" opacity="0.9"/><rect x="475.2" y="594.1" width="2.5" height="3.2" fill="#1c1c1c" opacity="0.9"/><rect x="477.1" y="591.7" width="2.4" height="2.2" fill="#5a5a5a" opacity="0.9"/></g><circle cx="421" cy="589" r="2.3" fill="#9c9c9c" stroke="#7a7a7a" stroke-width="0.5"/><circle cx="433" cy="596" r="2.1" fill="#9c9c9c" stroke="#7a7a7a" stroke-width="0.5"/><circle cx="446" cy="600" r="2.0" fill="#9c9c9c" stroke="#7a7a7a" stroke-width="0.5"/><circle cx="459" cy="602" r="2.9" fill="#9c9c9c" stroke="#7a7a7a" stroke-width="0.5"/><circle cx="411" cy="577" r="2.5" fill="#9c9c9c" stroke="#7a7a7a" stroke-width="0.5"/><g transform="rotate(0 488 650)"><ellipse cx="487.8" cy="652.3" rx="2.9" ry="4.3" fill="#555" opacity="0.45"/><ellipse cx="484.4" cy="648.2" rx="2.3" ry="6.1" fill="#555" opacity="0.45"/><ellipse cx="489.4" cy="651.5" rx="2.7" ry="5.7" fill="#555" opacity="0.45"/><ellipse cx="485.4" cy="649.1" rx="2.2" ry="6.4" fill="#555" opacity="0.45"/><ellipse cx="484.8" cy="654.7" rx="2.1" ry="5.8" fill="#555" opacity="0.45"/><ellipse cx="486.8" cy="648.6" rx="3.1" ry="4.0" fill="#555" opacity="0.45"/><rect x="486.7" y="639.6" width="2.8" height="1.9" fill="#5a5a5a" opacity="0.9"/><rect x="486.4" y="641.2" width="1.6" height="1.1" fill="#cfcfcf" opacity="0.9"/><rect x="489.5" y="639.5" width="1.3" height="1.2" fill="#5a5a5a" opacity="0.9"/><rect x="486.2" y="651.2" width="1.9" height="1.2" fill="#1c1c1c" opacity="0.9"/><rect x="485.3" y="645.9" width="2.2" height="1.5" fill="#cfcfcf" opacity="0.9"/><rect x="484.1" y="646.0" width="1.9" height="1.9" fill="#5a5a5a" opacity="0.9"/><rect x="486.5" y="649.7" width="1.4" height="1.3" fill="#1c1c1c" opacity="0.9"/><rect x="490.0" y="640.3" width="2.0" height="2.3" fill="#1c1c1c" opacity="0.9"/><rect x="485.7" y="652.5" width="1.1" height="0.8" fill="#1c1c1c" opacity="0.9"/><rect x="484.2" y="648.1" width="2.7" height="3.7" fill="#1c1c1c" opacity="0.9"/><rect x="485.3" y="642.0" width="2.3" height="1.4" fill="#5a5a5a" opacity="0.9"/><rect x="484.6" y="655.1" width="1.6" height="1.0" fill="#1c1c1c" opacity="0.9"/><rect x="481.6" y="651.2" width="2.8" height="2.8" fill="#5a5a5a" opacity="0.9"/><rect x="490.1" y="656.2" width="2.2" height="2.2" fill="#1c1c1c" opacity="0.9"/><rect x="487.0" y="652.1" width="1.5" height="1.9" fill="#5a5a5a" opacity="0.9"/><rect x="483.0" y="644.1" width="2.6" height="3.5" fill="#1c1c1c" opacity="0.9"/><rect x="487.0" y="653.2" width="2.3" height="1.9" fill="#1c1c1c" opacity="0.9"/><rect x="484.2" y="652.9" width="2.2" height="2.9" fill="#1c1c1c" opacity="0.9"/><rect x="486.2" y="643.4" width="1.8" height="1.9" fill="#5a5a5a" opacity="0.9"/><rect x="488.0" y="657.9" width="2.7" height="2.6" fill="#5a5a5a" opacity="0.9"/><rect x="487.8" y="657.6" width="2.4" height="2.1" fill="#cfcfcf" opacity="0.9"/><rect x="485.5" y="654.2" width="2.0" height="2.4" fill="#1c1c1c" opacity="0.9"/><rect x="487.5" y="655.5" width="1.7" height="1.5" fill="#1c1c1c" opacity="0.9"/><rect x="484.8" y="658.4" width="2.2" height="2.5" fill="#cfcfcf" opacity="0.9"/><rect x="482.7" y="649.6" width="2.3" height="1.8" fill="#1c1c1c" opacity="0.9"/><rect x="485.9" y="645.0" width="2.2" height="1.5" fill="#1c1c1c" opacity="0.9"/><rect x="484.8" y="653.1" width="2.4" height="3.2" fill="#cfcfcf" opacity="0.9"/><rect x="485.6" y="638.7" width="1.9" height="1.4" fill="#1c1c1c" opacity="0.9"/><rect x="489.1" y="645.8" width="1.4" height="1.9" fill="#1c1c1c" opacity="0.9"/><rect x="484.7" y="642.5" width="1.8" height="2.4" fill="#1c1c1c" opacity="0.9"/><rect x="487.4" y="653.7" width="1.3" height="1.4" fill="#1c1c1c" opacity="0.9"/><rect x="490.9" y="643.6" width="1.8" height="2.3" fill="#5a5a5a" opacity="0.9"/><rect x="483.8" y="649.7" width="2.4" height="2.7" fill="#1c1c1c" opacity="0.9"/><rect x="488.8" y="659.4" width="2.0" height="1.8" fill="#cfcfcf" opacity="0.9"/><rect x="489.6" y="645.1" width="1.9" height="1.6" fill="#1c1c1c" opacity="0.9"/><rect x="483.0" y="643.0" width="2.0" height="1.3" fill="#1c1c1c" opacity="0.9"/><rect x="490.0" y="643.9" width="2.7" height="2.4" fill="#cfcfcf" opacity="0.9"/><rect x="485.0" y="640.7" width="2.2" height="2.3" fill="#5a5a5a" opacity="0.9"/><rect x="490.1" y="647.0" width="2.1" height="2.0" fill="#1c1c1c" opacity="0.9"/><rect x="485.8" y="646.6" width="1.7" height="1.3" fill="#5a5a5a" opacity="0.9"/><rect x="483.4" y="643.2" width="2.7" height="1.8" fill="#cfcfcf" opacity="0.9"/><rect x="490.4" y="645.7" width="2.3" height="1.6" fill="#1c1c1c" opacity="0.9"/><rect x="491.3" y="656.6" width="1.4" height="0.9" fill="#5a5a5a" opacity="0.9"/><rect x="483.2" y="641.4" width="2.3" height="1.7" fill="#1c1c1c" opacity="0.9"/><rect x="483.2" y="644.6" width="2.6" height="1.7" fill="#cfcfcf" opacity="0.9"/><rect x="489.1" y="649.9" width="1.8" height="2.0" fill="#cfcfcf" opacity="0.9"/><rect x="490.2" y="649.0" width="2.1" height="2.4" fill="#1c1c1c" opacity="0.9"/></g><g transform="rotate(0 432 664)"><ellipse cx="430.6" cy="665.0" rx="2.4" ry="2.3" fill="#555" opacity="0.45"/><ellipse cx="430.1" cy="662.6" rx="1.8" ry="1.7" fill="#555" opacity="0.45"/><ellipse cx="433.4" cy="662.0" rx="2.2" ry="1.6" fill="#555" opacity="0.45"/><ellipse cx="430.8" cy="663.6" rx="2.5" ry="2.0" fill="#555" opacity="0.45"/><ellipse cx="429.1" cy="662.8" rx="1.8" ry="2.3" fill="#555" opacity="0.45"/><ellipse cx="433.9" cy="665.6" rx="2.5" ry="2.2" fill="#555" opacity="0.45"/><rect x="428.9" y="665.9" width="1.9" height="2.0" fill="#5a5a5a" opacity="0.9"/><rect x="430.5" y="662.0" width="1.8" height="1.2" fill="#1c1c1c" opacity="0.9"/><rect x="433.5" y="665.0" width="2.8" height="2.9" fill="#cfcfcf" opacity="0.9"/><rect x="433.1" y="660.0" width="2.2" height="1.6" fill="#1c1c1c" opacity="0.9"/><rect x="428.6" y="663.5" width="1.5" height="1.6" fill="#1c1c1c" opacity="0.9"/><rect x="430.1" y="660.1" width="1.9" height="1.5" fill="#1c1c1c" opacity="0.9"/><rect x="428.7" y="662.4" width="1.1" height="1.5" fill="#cfcfcf" opacity="0.9"/><rect x="429.7" y="664.4" width="2.7" height="1.9" fill="#1c1c1c" opacity="0.9"/><rect x="433.7" y="665.6" width="2.2" height="2.0" fill="#1c1c1c" opacity="0.9"/><rect x="433.5" y="660.4" width="2.5" height="3.0" fill="#1c1c1c" opacity="0.9"/><rect x="432.2" y="665.1" width="1.4" height="1.5" fill="#cfcfcf" opacity="0.9"/><rect x="431.7" y="661.7" width="2.3" height="1.9" fill="#1c1c1c" opacity="0.9"/><rect x="428.4" y="664.9" width="1.2" height="0.8" fill="#1c1c1c" opacity="0.9"/><rect x="432.3" y="663.5" width="2.0" height="1.9" fill="#1c1c1c" opacity="0.9"/><rect x="430.1" y="660.2" width="1.0" height="0.7" fill="#5a5a5a" opacity="0.9"/></g><g transform="rotate(20 481 623)"><ellipse cx="477.9" cy="623.8" rx="3.1" ry="1.8" fill="#555" opacity="0.45"/><ellipse cx="479.2" cy="622.0" rx="3.2" ry="1.6" fill="#555" opacity="0.45"/><ellipse cx="479.4" cy="623.7" rx="2.7" ry="1.6" fill="#555" opacity="0.45"/><ellipse cx="477.9" cy="621.9" rx="3.5" ry="1.3" fill="#555" opacity="0.45"/><ellipse cx="479.1" cy="624.2" rx="3.1" ry="1.2" fill="#555" opacity="0.45"/><ellipse cx="481.4" cy="623.7" rx="2.4" ry="1.5" fill="#555" opacity="0.45"/><rect x="475.9" y="621.4" width="1.1" height="1.6" fill="#1c1c1c" opacity="0.9"/><rect x="478.9" y="625.0" width="1.8" height="2.3" fill="#cfcfcf" opacity="0.9"/><rect x="482.2" y="619.6" width="2.1" height="1.5" fill="#cfcfcf" opacity="0.9"/><rect x="480.3" y="620.3" width="1.8" height="2.2" fill="#1c1c1c" opacity="0.9"/><rect x="479.8" y="619.4" width="2.5" height="2.0" fill="#1c1c1c" opacity="0.9"/><rect x="475.8" y="622.6" width="1.2" height="1.3" fill="#1c1c1c" opacity="0.9"/><rect x="480.5" y="621.8" width="1.9" height="2.0" fill="#1c1c1c" opacity="0.9"/><rect x="475.4" y="622.1" width="1.4" height="1.9" fill="#5a5a5a" opacity="0.9"/><rect x="482.9" y="622.9" width="1.0" height="1.4" fill="#cfcfcf" opacity="0.9"/><rect x="479.1" y="621.1" width="2.0" height="1.6" fill="#5a5a5a" opacity="0.9"/><rect x="477.6" y="620.1" width="2.1" height="1.7" fill="#1c1c1c" opacity="0.9"/><rect x="478.9" y="619.4" width="1.6" height="1.7" fill="#5a5a5a" opacity="0.9"/><rect x="477.6" y="624.8" width="1.6" height="1.0" fill="#1c1c1c" opacity="0.9"/><rect x="476.0" y="620.5" width="1.4" height="1.1" fill="#5a5a5a" opacity="0.9"/><rect x="476.7" y="622.3" width="2.7" height="3.2" fill="#1c1c1c" opacity="0.9"/></g><g transform="rotate(0 398 685)"><ellipse cx="400.5" cy="682.4" rx="2.1" ry="1.6" fill="#555" opacity="0.45"/><ellipse cx="400.6" cy="682.4" rx="2.3" ry="2.1" fill="#555" opacity="0.45"/><ellipse cx="399.9" cy="687.7" rx="1.7" ry="1.8" fill="#555" opacity="0.45"/><ellipse cx="399.1" cy="683.8" rx="1.7" ry="1.7" fill="#555" opacity="0.45"/><ellipse cx="399.9" cy="687.0" rx="2.2" ry="1.7" fill="#555" opacity="0.45"/><ellipse cx="400.3" cy="685.1" rx="1.7" ry="1.9" fill="#555" opacity="0.45"/><rect x="396.4" y="680.6" width="2.0" height="2.1" fill="#1c1c1c" opacity="0.9"/><rect x="400.6" y="685.3" width="1.7" height="2.4" fill="#5a5a5a" opacity="0.9"/><rect x="397.4" y="688.0" width="1.0" height="0.8" fill="#1c1c1c" opacity="0.9"/><rect x="400.4" y="685.4" width="2.3" height="2.3" fill="#1c1c1c" opacity="0.9"/><rect x="396.7" y="686.7" width="2.0" height="2.0" fill="#1c1c1c" opacity="0.9"/><rect x="396.1" y="682.1" width="1.6" height="1.3" fill="#5a5a5a" opacity="0.9"/><rect x="400.3" y="682.8" width="1.8" height="2.4" fill="#1c1c1c" opacity="0.9"/><rect x="399.8" y="684.2" width="1.2" height="1.1" fill="#1c1c1c" opacity="0.9"/><rect x="399.4" y="682.8" width="1.1" height="1.5" fill="#5a5a5a" opacity="0.9"/><rect x="394.3" y="684.1" width="1.9" height="1.2" fill="#5a5a5a" opacity="0.9"/><rect x="397.4" y="683.5" width="2.4" height="2.8" fill="#cfcfcf" opacity="0.9"/></g><g transform="rotate(0 442 735)"><ellipse cx="441.4" cy="734.9" rx="1.4" ry="2.3" fill="#555" opacity="0.45"/><ellipse cx="441.6" cy="736.1" rx="1.3" ry="2.6" fill="#555" opacity="0.45"/><ellipse cx="440.0" cy="733.7" rx="1.3" ry="2.0" fill="#555" opacity="0.45"/><ellipse cx="443.0" cy="733.7" rx="1.6" ry="2.9" fill="#555" opacity="0.45"/><ellipse cx="441.0" cy="737.6" rx="1.7" ry="2.6" fill="#555" opacity="0.45"/><ellipse cx="440.1" cy="734.7" rx="1.5" ry="2.2" fill="#555" opacity="0.45"/><rect x="439.6" y="732.4" width="1.5" height="1.3" fill="#5a5a5a" opacity="0.9"/><rect x="440.2" y="735.1" width="2.7" height="1.7" fill="#1c1c1c" opacity="0.9"/><rect x="443.0" y="734.5" width="1.4" height="1.2" fill="#1c1c1c" opacity="0.9"/><rect x="440.6" y="729.5" width="2.3" height="1.4" fill="#cfcfcf" opacity="0.9"/><rect x="442.7" y="733.6" width="2.7" height="3.3" fill="#1c1c1c" opacity="0.9"/><rect x="440.8" y="735.2" width="1.9" height="1.4" fill="#1c1c1c" opacity="0.9"/><rect x="439.6" y="733.2" width="1.7" height="1.9" fill="#cfcfcf" opacity="0.9"/><rect x="440.4" y="732.2" width="1.9" height="2.4" fill="#5a5a5a" opacity="0.9"/><rect x="442.2" y="737.5" width="1.4" height="1.0" fill="#1c1c1c" opacity="0.9"/><rect x="442.2" y="738.6" width="1.2" height="1.6" fill="#cfcfcf" opacity="0.9"/><rect x="442.5" y="730.5" width="2.1" height="1.6" fill="#1c1c1c" opacity="0.9"/><rect x="437.7" y="733.9" width="2.7" height="1.9" fill="#1c1c1c" opacity="0.9"/><rect x="440.4" y="729.5" width="1.8" height="1.8" fill="#cfcfcf" opacity="0.9"/></g><g transform="rotate(0 632 551)"><ellipse cx="632.1" cy="552.0" rx="3.0" ry="1.1" fill="#555" opacity="0.45"/><ellipse cx="633.8" cy="551.7" rx="2.6" ry="1.0" fill="#555" opacity="0.45"/><ellipse cx="628.8" cy="550.6" rx="2.7" ry="1.1" fill="#555" opacity="0.45"/><ellipse cx="632.0" cy="550.4" rx="2.8" ry="1.5" fill="#555" opacity="0.45"/><ellipse cx="631.3" cy="552.7" rx="1.9" ry="1.4" fill="#555" opacity="0.45"/><ellipse cx="634.5" cy="549.8" rx="2.6" ry="1.2" fill="#555" opacity="0.45"/><rect x="631.3" y="551.8" width="2.1" height="1.4" fill="#1c1c1c" opacity="0.9"/><rect x="635.0" y="549.5" width="2.8" height="3.5" fill="#1c1c1c" opacity="0.9"/><rect x="626.6" y="549.8" width="1.1" height="1.0" fill="#5a5a5a" opacity="0.9"/><rect x="635.4" y="549.2" width="2.4" height="1.9" fill="#5a5a5a" opacity="0.9"/><rect x="631.6" y="552.3" width="1.9" height="1.6" fill="#1c1c1c" opacity="0.9"/><rect x="633.8" y="548.4" width="2.1" height="2.2" fill="#cfcfcf" opacity="0.9"/><rect x="627.0" y="550.5" width="2.6" height="2.3" fill="#1c1c1c" opacity="0.9"/><rect x="635.3" y="550.6" width="1.5" height="1.8" fill="#1c1c1c" opacity="0.9"/><rect x="629.7" y="550.1" width="1.5" height="1.8" fill="#cfcfcf" opacity="0.9"/><rect x="628.7" y="547.5" width="2.8" height="1.7" fill="#5a5a5a" opacity="0.9"/></g><g transform="rotate(-30 672 588)"><ellipse cx="667.3" cy="589.1" rx="4.8" ry="2.0" fill="#555" opacity="0.45"/><ellipse cx="671.8" cy="588.0" rx="5.2" ry="2.3" fill="#555" opacity="0.45"/><ellipse cx="668.5" cy="586.4" rx="5.8" ry="2.2" fill="#555" opacity="0.45"/><ellipse cx="674.6" cy="589.9" rx="6.2" ry="2.9" fill="#555" opacity="0.45"/><ellipse cx="668.1" cy="586.2" rx="5.9" ry="2.5" fill="#555" opacity="0.45"/><ellipse cx="667.6" cy="589.2" rx="6.3" ry="2.8" fill="#555" opacity="0.45"/><rect x="665.2" y="585.5" width="1.0" height="0.8" fill="#5a5a5a" opacity="0.9"/><rect x="676.0" y="587.3" width="2.1" height="2.6" fill="#cfcfcf" opacity="0.9"/><rect x="673.6" y="585.4" width="1.2" height="1.6" fill="#1c1c1c" opacity="0.9"/><rect x="663.1" y="588.8" width="2.1" height="1.6" fill="#1c1c1c" opacity="0.9"/><rect x="675.2" y="586.5" width="1.7" height="1.2" fill="#1c1c1c" opacity="0.9"/><rect x="675.5" y="587.9" width="2.0" height="2.5" fill="#1c1c1c" opacity="0.9"/><rect x="678.5" y="587.9" width="1.2" height="0.8" fill="#1c1c1c" opacity="0.9"/><rect x="661.7" y="588.5" width="2.0" height="2.6" fill="#1c1c1c" opacity="0.9"/><rect x="673.6" y="589.7" width="2.5" height="2.5" fill="#cfcfcf" opacity="0.9"/><rect x="675.2" y="590.9" width="1.9" height="1.4" fill="#5a5a5a" opacity="0.9"/><rect x="669.3" y="584.9" width="1.7" height="1.2" fill="#cfcfcf" opacity="0.9"/><rect x="667.7" y="590.7" width="1.5" height="2.2" fill="#1c1c1c" opacity="0.9"/><rect x="671.9" y="582.2" width="2.0" height="1.5" fill="#1c1c1c" opacity="0.9"/><rect x="676.4" y="588.6" width="1.8" height="1.9" fill="#cfcfcf" opacity="0.9"/><rect x="669.9" y="582.8" width="2.4" height="2.2" fill="#5a5a5a" opacity="0.9"/><rect x="669.0" y="588.2" width="1.8" height="2.4" fill="#1c1c1c" opacity="0.9"/><rect x="663.4" y="589.5" width="2.7" height="2.3" fill="#cfcfcf" opacity="0.9"/><rect x="671.8" y="591.6" width="1.5" height="1.9" fill="#1c1c1c" opacity="0.9"/><rect x="675.8" y="590.3" width="1.2" height="1.3" fill="#1c1c1c" opacity="0.9"/><rect x="661.4" y="585.2" width="2.1" height="2.5" fill="#5a5a5a" opacity="0.9"/><rect x="668.8" y="586.1" width="1.9" height="2.7" fill="#cfcfcf" opacity="0.9"/><rect x="665.9" y="585.0" width="1.4" height="1.0" fill="#1c1c1c" opacity="0.9"/><rect x="675.3" y="586.8" width="1.2" height="1.5" fill="#5a5a5a" opacity="0.9"/><rect x="665.5" y="590.1" width="2.4" height="1.6" fill="#cfcfcf" opacity="0.9"/><rect x="675.3" y="590.4" width="2.6" height="1.9" fill="#5a5a5a" opacity="0.9"/><rect x="667.9" y="587.3" width="2.2" height="2.9" fill="#cfcfcf" opacity="0.9"/><rect x="676.9" y="590.5" width="2.2" height="1.4" fill="#1c1c1c" opacity="0.9"/><rect x="674.6" y="591.7" width="1.3" height="0.8" fill="#5a5a5a" opacity="0.9"/><rect x="668.6" y="589.4" width="2.3" height="1.9" fill="#cfcfcf" opacity="0.9"/><rect x="665.3" y="583.3" width="2.2" height="1.5" fill="#1c1c1c" opacity="0.9"/><rect x="676.3" y="586.9" width="1.0" height="1.4" fill="#1c1c1c" opacity="0.9"/><rect x="671.6" y="585.1" width="1.2" height="1.0" fill="#1c1c1c" opacity="0.9"/><rect x="666.0" y="582.6" width="2.1" height="2.1" fill="#5a5a5a" opacity="0.9"/><rect x="673.1" y="584.5" width="2.8" height="3.7" fill="#1c1c1c" opacity="0.9"/><rect x="679.5" y="588.0" width="1.4" height="1.9" fill="#1c1c1c" opacity="0.9"/><rect x="668.8" y="590.0" width="2.6" height="2.7" fill="#1c1c1c" opacity="0.9"/><rect x="665.4" y="582.7" width="2.2" height="1.7" fill="#1c1c1c" opacity="0.9"/><rect x="677.0" y="585.5" width="1.5" height="1.1" fill="#1c1c1c" opacity="0.9"/><rect x="678.2" y="585.0" width="2.7" height="2.8" fill="#cfcfcf" opacity="0.9"/><rect x="680.2" y="586.2" width="1.1" height="0.7" fill="#cfcfcf" opacity="0.9"/><rect x="668.2" y="582.5" width="2.7" height="3.7" fill="#1c1c1c" opacity="0.9"/><rect x="670.2" y="590.6" width="2.6" height="2.2" fill="#1c1c1c" opacity="0.9"/><rect x="669.1" y="583.7" width="2.7" height="2.1" fill="#1c1c1c" opacity="0.9"/><rect x="663.8" y="583.3" width="2.5" height="2.6" fill="#1c1c1c" opacity="0.9"/></g><g transform="rotate(0 590 545)"><ellipse cx="590.9" cy="546.5" rx="1.9" ry="1.9" fill="#555" opacity="0.45"/><ellipse cx="589.4" cy="547.6" rx="1.7" ry="1.6" fill="#555" opacity="0.45"/><ellipse cx="588.7" cy="543.7" rx="1.8" ry="1.7" fill="#555" opacity="0.45"/><ellipse cx="587.9" cy="544.1" rx="1.7" ry="2.0" fill="#555" opacity="0.45"/><ellipse cx="588.4" cy="542.7" rx="1.6" ry="2.0" fill="#555" opacity="0.45"/><ellipse cx="589.4" cy="546.2" rx="2.2" ry="1.8" fill="#555" opacity="0.45"/><rect x="585.6" y="545.6" width="2.4" height="2.7" fill="#1c1c1c" opacity="0.9"/><rect x="587.1" y="547.1" width="2.5" height="3.4" fill="#5a5a5a" opacity="0.9"/><rect x="586.7" y="544.2" width="2.3" height="2.1" fill="#5a5a5a" opacity="0.9"/><rect x="586.5" y="545.4" width="1.2" height="0.7" fill="#cfcfcf" opacity="0.9"/><rect x="589.0" y="544.2" width="1.2" height="1.2" fill="#1c1c1c" opacity="0.9"/><rect x="587.7" y="546.9" width="2.6" height="2.0" fill="#5a5a5a" opacity="0.9"/><rect x="585.6" y="543.4" width="1.2" height="1.0" fill="#cfcfcf" opacity="0.9"/><rect x="586.2" y="542.4" width="1.7" height="1.7" fill="#cfcfcf" opacity="0.9"/><rect x="587.9" y="545.9" width="1.1" height="1.2" fill="#1c1c1c" opacity="0.9"/><rect x="591.5" y="541.3" width="1.1" height="1.3" fill="#cfcfcf" opacity="0.9"/><rect x="585.4" y="543.7" width="1.5" height="1.1" fill="#1c1c1c" opacity="0.9"/><rect x="587.7" y="544.1" width="1.2" height="1.6" fill="#cfcfcf" opacity="0.9"/><rect x="590.4" y="540.5" width="2.2" height="1.3" fill="#cfcfcf" opacity="0.9"/><rect x="587.7" y="544.9" width="2.7" height="2.9" fill="#5a5a5a" opacity="0.9"/><rect x="590.0" y="548.0" width="1.4" height="0.9" fill="#cfcfcf" opacity="0.9"/><rect x="591.5" y="545.5" width="1.4" height="1.4" fill="#1c1c1c" opacity="0.9"/></g><g transform="rotate(0 512 538)"><ellipse cx="513.6" cy="538.7" rx="1.6" ry="1.7" fill="#555" opacity="0.45"/><ellipse cx="511.0" cy="538.5" rx="1.7" ry="1.7" fill="#555" opacity="0.45"/><ellipse cx="512.3" cy="536.7" rx="1.4" ry="1.8" fill="#555" opacity="0.45"/><ellipse cx="510.4" cy="537.3" rx="1.8" ry="1.4" fill="#555" opacity="0.45"/><ellipse cx="510.8" cy="537.3" rx="1.7" ry="1.3" fill="#555" opacity="0.45"/><ellipse cx="511.7" cy="538.5" rx="1.7" ry="1.4" fill="#555" opacity="0.45"/><rect x="509.0" y="537.9" width="1.1" height="0.8" fill="#1c1c1c" opacity="0.9"/><rect x="512.0" y="535.6" width="2.2" height="1.6" fill="#1c1c1c" opacity="0.9"/><rect x="513.4" y="535.6" width="1.4" height="1.6" fill="#1c1c1c" opacity="0.9"/><rect x="509.7" y="534.7" width="2.2" height="2.1" fill="#cfcfcf" opacity="0.9"/><rect x="508.9" y="537.8" width="2.0" height="1.5" fill="#1c1c1c" opacity="0.9"/><rect x="511.9" y="536.5" width="1.2" height="1.2" fill="#cfcfcf" opacity="0.9"/></g><g transform="rotate(-15 645 742)"><ellipse cx="639.2" cy="743.1" rx="6.7" ry="2.1" fill="#555" opacity="0.45"/><ellipse cx="640.1" cy="743.8" rx="7.2" ry="2.2" fill="#555" opacity="0.45"/><ellipse cx="645.1" cy="740.4" rx="4.7" ry="2.0" fill="#555" opacity="0.45"/><ellipse cx="646.5" cy="739.4" rx="7.2" ry="1.9" fill="#555" opacity="0.45"/><ellipse cx="640.4" cy="739.3" rx="7.8" ry="2.4" fill="#555" opacity="0.45"/><ellipse cx="651.5" cy="742.7" rx="4.8" ry="2.0" fill="#555" opacity="0.45"/><rect x="643.6" y="737.2" width="2.7" height="2.0" fill="#1c1c1c" opacity="0.9"/><rect x="651.9" y="737.3" width="2.7" height="2.8" fill="#1c1c1c" opacity="0.9"/><rect x="640.2" y="741.2" width="1.3" height="1.7" fill="#1c1c1c" opacity="0.9"/><rect x="637.4" y="743.8" width="1.4" height="1.8" fill="#5a5a5a" opacity="0.9"/><rect x="650.6" y="743.3" width="2.0" height="1.4" fill="#cfcfcf" opacity="0.9"/><rect x="643.7" y="744.3" width="1.4" height="1.8" fill="#5a5a5a" opacity="0.9"/><rect x="641.7" y="739.9" width="1.8" height="2.5" fill="#1c1c1c" opacity="0.9"/><rect x="641.5" y="737.2" width="1.2" height="1.6" fill="#cfcfcf" opacity="0.9"/><rect x="643.9" y="740.9" width="2.0" height="1.5" fill="#cfcfcf" opacity="0.9"/><rect x="646.8" y="741.4" width="2.1" height="1.6" fill="#1c1c1c" opacity="0.9"/><rect x="640.2" y="745.0" width="1.6" height="1.4" fill="#cfcfcf" opacity="0.9"/><rect x="652.3" y="743.7" width="1.7" height="1.9" fill="#cfcfcf" opacity="0.9"/><rect x="641.2" y="745.0" width="2.7" height="3.6" fill="#cfcfcf" opacity="0.9"/><rect x="644.0" y="740.2" width="1.4" height="1.1" fill="#5a5a5a" opacity="0.9"/><rect x="650.9" y="740.6" width="2.5" height="2.0" fill="#1c1c1c" opacity="0.9"/><rect x="638.9" y="740.6" width="1.3" height="1.1" fill="#1c1c1c" opacity="0.9"/><rect x="650.7" y="741.1" width="1.5" height="1.5" fill="#5a5a5a" opacity="0.9"/><rect x="636.3" y="743.8" width="2.4" height="2.6" fill="#5a5a5a" opacity="0.9"/><rect x="641.8" y="741.5" width="2.5" height="2.6" fill="#1c1c1c" opacity="0.9"/><rect x="638.7" y="743.9" width="1.0" height="1.4" fill="#cfcfcf" opacity="0.9"/><rect x="631.5" y="741.8" width="2.2" height="2.3" fill="#5a5a5a" opacity="0.9"/><rect x="637.3" y="739.8" width="2.7" height="1.9" fill="#5a5a5a" opacity="0.9"/><rect x="632.0" y="740.9" width="1.3" height="1.4" fill="#5a5a5a" opacity="0.9"/><rect x="634.5" y="741.6" width="1.6" height="1.2" fill="#1c1c1c" opacity="0.9"/><rect x="635.5" y="738.3" width="1.7" height="1.7" fill="#cfcfcf" opacity="0.9"/><rect x="653.5" y="743.3" width="2.4" height="2.4" fill="#1c1c1c" opacity="0.9"/><rect x="635.8" y="743.2" width="1.5" height="1.2" fill="#cfcfcf" opacity="0.9"/><rect x="632.3" y="740.2" width="1.6" height="1.3" fill="#5a5a5a" opacity="0.9"/><rect x="643.7" y="741.1" width="2.7" height="2.9" fill="#1c1c1c" opacity="0.9"/><rect x="643.8" y="742.7" width="2.7" height="3.2" fill="#1c1c1c" opacity="0.9"/><rect x="645.1" y="742.0" width="1.1" height="1.5" fill="#5a5a5a" opacity="0.9"/><rect x="639.8" y="739.0" width="2.8" height="1.8" fill="#1c1c1c" opacity="0.9"/><rect x="650.7" y="740.5" width="2.1" height="2.4" fill="#1c1c1c" opacity="0.9"/><rect x="642.7" y="741.3" width="1.7" height="1.3" fill="#1c1c1c" opacity="0.9"/><rect x="632.5" y="740.7" width="1.4" height="1.8" fill="#cfcfcf" opacity="0.9"/><rect x="650.1" y="740.9" width="1.4" height="1.4" fill="#1c1c1c" opacity="0.9"/><rect x="647.9" y="745.6" width="1.2" height="1.1" fill="#1c1c1c" opacity="0.9"/><rect x="649.4" y="744.3" width="2.4" height="2.9" fill="#cfcfcf" opacity="0.9"/><rect x="648.2" y="744.1" width="2.3" height="1.8" fill="#cfcfcf" opacity="0.9"/><rect x="654.8" y="739.9" width="2.1" height="2.9" fill="#5a5a5a" opacity="0.9"/><rect x="639.3" y="739.5" width="1.7" height="1.8" fill="#1c1c1c" opacity="0.9"/><rect x="632.7" y="738.9" width="2.7" height="2.6" fill="#cfcfcf" opacity="0.9"/><rect x="649.5" y="738.6" width="1.6" height="1.8" fill="#cfcfcf" opacity="0.9"/><rect x="639.1" y="738.5" width="2.5" height="2.9" fill="#1c1c1c" opacity="0.9"/><rect x="636.4" y="742.1" width="1.5" height="2.0" fill="#1c1c1c" opacity="0.9"/><rect x="643.1" y="740.4" width="2.1" height="1.6" fill="#1c1c1c" opacity="0.9"/></g><g transform="rotate(20 554 605)"><ellipse cx="557.7" cy="603.1" rx="2.2" ry="2.4" fill="#555" opacity="0.45"/><ellipse cx="551.5" cy="603.0" rx="3.1" ry="1.8" fill="#555" opacity="0.45"/><ellipse cx="557.1" cy="603.6" rx="3.5" ry="1.7" fill="#555" opacity="0.45"/><ellipse cx="554.8" cy="607.3" rx="3.1" ry="2.3" fill="#555" opacity="0.45"/><ellipse cx="555.7" cy="602.6" rx="3.4" ry="2.0" fill="#555" opacity="0.45"/><ellipse cx="552.5" cy="603.3" rx="3.4" ry="2.0" fill="#555" opacity="0.45"/><rect x="558.4" y="604.4" width="2.3" height="1.8" fill="#cfcfcf" opacity="0.9"/><rect x="558.3" y="602.3" width="2.4" height="2.7" fill="#5a5a5a" opacity="0.9"/><rect x="548.6" y="606.5" width="2.2" height="1.4" fill="#1c1c1c" opacity="0.9"/><rect x="553.0" y="599.9" width="2.7" height="2.7" fill="#cfcfcf" opacity="0.9"/><rect x="551.6" y="605.0" width="2.6" height="2.4" fill="#1c1c1c" opacity="0.9"/><rect x="554.0" y="602.3" width="2.1" height="2.0" fill="#cfcfcf" opacity="0.9"/><rect x="555.5" y="604.6" width="1.2" height="1.0" fill="#5a5a5a" opacity="0.9"/><rect x="551.8" y="602.9" width="2.7" height="2.7" fill="#5a5a5a" opacity="0.9"/><rect x="551.5" y="600.5" width="2.6" height="2.7" fill="#1c1c1c" opacity="0.9"/><rect x="551.4" y="602.8" width="1.6" height="1.0" fill="#1c1c1c" opacity="0.9"/><rect x="553.3" y="606.3" width="2.2" height="2.5" fill="#1c1c1c" opacity="0.9"/><rect x="547.4" y="603.0" width="2.5" height="2.4" fill="#5a5a5a" opacity="0.9"/><rect x="557.2" y="604.0" width="1.9" height="2.7" fill="#cfcfcf" opacity="0.9"/><rect x="555.8" y="603.6" width="2.3" height="2.0" fill="#cfcfcf" opacity="0.9"/><rect x="556.4" y="606.5" width="2.1" height="1.3" fill="#5a5a5a" opacity="0.9"/><rect x="553.2" y="605.3" width="1.6" height="1.9" fill="#1c1c1c" opacity="0.9"/><rect x="552.7" y="602.6" width="1.1" height="0.9" fill="#5a5a5a" opacity="0.9"/><rect x="548.7" y="602.0" width="1.5" height="1.1" fill="#5a5a5a" opacity="0.9"/><rect x="550.4" y="600.9" width="1.8" height="1.6" fill="#1c1c1c" opacity="0.9"/><rect x="555.6" y="607.1" width="2.5" height="2.3" fill="#1c1c1c" opacity="0.9"/><rect x="549.6" y="604.1" width="1.7" height="2.0" fill="#5a5a5a" opacity="0.9"/><rect x="552.9" y="602.3" width="1.4" height="0.9" fill="#1c1c1c" opacity="0.9"/></g><g transform="rotate(0 563 620)"><ellipse cx="565.3" cy="624.2" rx="2.3" ry="2.7" fill="#555" opacity="0.45"/><ellipse cx="563.5" cy="619.3" rx="1.9" ry="2.7" fill="#555" opacity="0.45"/><ellipse cx="561.4" cy="619.5" rx="1.7" ry="3.3" fill="#555" opacity="0.45"/><ellipse cx="560.5" cy="616.1" rx="2.1" ry="3.2" fill="#555" opacity="0.45"/><ellipse cx="563.1" cy="622.2" rx="1.8" ry="2.6" fill="#555" opacity="0.45"/><ellipse cx="564.5" cy="620.8" rx="2.1" ry="3.6" fill="#555" opacity="0.45"/><rect x="565.6" y="616.9" width="2.4" height="2.5" fill="#1c1c1c" opacity="0.9"/><rect x="563.7" y="616.8" width="1.2" height="1.4" fill="#1c1c1c" opacity="0.9"/><rect x="562.6" y="618.2" width="2.2" height="1.6" fill="#1c1c1c" opacity="0.9"/><rect x="560.9" y="623.7" width="1.4" height="0.9" fill="#1c1c1c" opacity="0.9"/><rect x="562.8" y="623.7" width="1.6" height="1.3" fill="#1c1c1c" opacity="0.9"/><rect x="560.4" y="622.9" width="2.0" height="1.4" fill="#1c1c1c" opacity="0.9"/><rect x="564.0" y="621.7" width="2.5" height="2.6" fill="#1c1c1c" opacity="0.9"/><rect x="565.0" y="619.9" width="2.7" height="3.7" fill="#1c1c1c" opacity="0.9"/><rect x="558.9" y="618.3" width="1.0" height="1.2" fill="#5a5a5a" opacity="0.9"/><rect x="565.2" y="619.2" width="2.8" height="2.4" fill="#cfcfcf" opacity="0.9"/><rect x="566.1" y="617.6" width="1.3" height="1.3" fill="#1c1c1c" opacity="0.9"/><rect x="559.2" y="619.8" width="1.3" height="1.6" fill="#cfcfcf" opacity="0.9"/><rect x="559.7" y="617.6" width="2.6" height="2.3" fill="#1c1c1c" opacity="0.9"/><rect x="565.3" y="621.8" width="1.7" height="2.2" fill="#cfcfcf" opacity="0.9"/><rect x="563.4" y="615.6" width="1.5" height="1.9" fill="#1c1c1c" opacity="0.9"/><rect x="562.2" y="619.5" width="2.5" height="2.7" fill="#1c1c1c" opacity="0.9"/><rect x="560.4" y="619.6" width="2.5" height="3.4" fill="#1c1c1c" opacity="0.9"/><rect x="558.6" y="619.9" width="2.0" height="2.1" fill="#1c1c1c" opacity="0.9"/><rect x="561.6" y="618.1" width="2.3" height="2.1" fill="#1c1c1c" opacity="0.9"/><rect x="564.0" y="613.7" width="2.6" height="2.9" fill="#1c1c1c" opacity="0.9"/><rect x="559.5" y="618.4" width="1.8" height="2.0" fill="#1c1c1c" opacity="0.9"/><rect x="561.9" y="621.7" width="2.0" height="2.0" fill="#cfcfcf" opacity="0.9"/><rect x="560.8" y="625.0" width="1.2" height="1.5" fill="#5a5a5a" opacity="0.9"/></g><g transform="rotate(0 568 636)"><ellipse cx="568.7" cy="637.8" rx="1.0" ry="2.4" fill="#555" opacity="0.45"/><ellipse cx="567.0" cy="636.9" rx="1.0" ry="2.2" fill="#555" opacity="0.45"/><ellipse cx="566.8" cy="637.1" rx="1.3" ry="2.2" fill="#555" opacity="0.45"/><ellipse cx="567.8" cy="638.0" rx="1.5" ry="1.6" fill="#555" opacity="0.45"/><ellipse cx="568.1" cy="638.4" rx="1.3" ry="1.9" fill="#555" opacity="0.45"/><ellipse cx="567.3" cy="638.4" rx="1.0" ry="2.2" fill="#555" opacity="0.45"/><rect x="568.9" y="632.5" width="1.6" height="1.6" fill="#1c1c1c" opacity="0.9"/><rect x="566.0" y="637.8" width="2.7" height="3.5" fill="#1c1c1c" opacity="0.9"/><rect x="567.6" y="637.2" width="2.5" height="3.2" fill="#5a5a5a" opacity="0.9"/><rect x="565.5" y="636.6" width="2.7" height="2.7" fill="#1c1c1c" opacity="0.9"/><rect x="565.3" y="632.2" width="1.9" height="2.6" fill="#cfcfcf" opacity="0.9"/><rect x="564.8" y="634.6" width="2.8" height="2.9" fill="#5a5a5a" opacity="0.9"/><rect x="566.0" y="636.3" width="1.5" height="1.6" fill="#cfcfcf" opacity="0.9"/><rect x="566.6" y="637.5" width="1.7" height="2.2" fill="#1c1c1c" opacity="0.9"/><rect x="565.7" y="632.5" width="2.0" height="2.6" fill="#1c1c1c" opacity="0.9"/></g><circle cx="566.8" cy="646" r="2.5" fill="#eee"/><ellipse cx="669" cy="579" rx="11" ry="10" fill="#b5b5b5"/><g clip-path="url(#iclip)"><defs><linearGradient id="ibg" x1="0" y1="0" x2="1" y2="1"><stop offset="0" stop-color="#dcdcdc"/><stop offset="0.35" stop-color="#c0c0c0"/><stop offset="1" stop-color="#b4b4b4"/></linearGradient></defs><rect x="476" y="687" width="152" height="133" fill="url(#ibg)"/><path d="M476,735 L482,738 L486,770 L494,800 L498,820 L476,820 Z" fill="#a4a4a4"/><path d="M482,738 L486,770 L494,800 L498,820" fill="none" stroke="#d6d6d6" stroke-width="1.8"/><path d="M548.0,694.0 C556.3,693.7 564.7,694.7 572.0,697.0 C579.3,699.3 586.2,703.3 592.0,708.0 C597.8,712.7 603.3,718.3 607.0,725.0 C610.7,731.7 613.2,740.2 614.0,748.0 C614.8,755.8 613.8,764.5 612.0,772.0 C610.2,779.5 607.5,786.7 603.0,793.0 C598.5,799.3 592.2,805.8 585.0,810.0 C577.8,814.2 569.2,816.7 560.0,818.0 C550.8,819.3 539.2,820.0 530.0,818.0 C520.8,816.0 511.7,811.0 505.0,806.0 C498.3,801.0 493.5,795.7 490.0,788.0 C486.5,780.3 484.3,769.2 484.0,760.0 C483.7,750.8 485.3,741.0 488.0,733.0 C490.7,725.0 494.3,717.7 500.0,712.0 C505.7,706.3 514.0,702.0 522.0,699.0 C530.0,696.0 539.7,694.3 548.0,694.0 Z" fill="#8d8d8d" stroke="#7a7a7a" stroke-width="1.5" filter="url(#mott)"/><path d="M476,687 L628,687 L628,694 Q560,690 476,697 Z" fill="#a6a6a6"/><ellipse cx="552" cy="754" rx="16" ry="6" fill="#7c7c7c" opacity="0.7"/><g transform="rotate(25 568 712)"><ellipse cx="561.5" cy="709.4" rx="4.5" ry="2.6" fill="#555" opacity="0.45"/><ellipse cx="563.2" cy="709.4" rx="4.2" ry="2.7" fill="#555" opacity="0.45"/><ellipse cx="563.3" cy="713.6" rx="5.2" ry="2.0" fill="#555" opacity="0.45"/><ellipse cx="568.5" cy="711.7" rx="4.6" ry="3.0" fill="#555" opacity="0.45"/><ellipse cx="562.6" cy="708.8" rx="5.9" ry="2.3" fill="#555" opacity="0.45"/><ellipse cx="564.0" cy="710.9" rx="4.5" ry="2.9" fill="#555" opacity="0.45"/><rect x="561.2" y="708.1" width="2.1" height="2.8" fill="#cfcfcf" opacity="0.9"/><rect x="574.1" y="709.9" width="1.4" height="1.9" fill="#5a5a5a" opacity="0.9"/><rect x="574.7" y="712.8" width="1.4" height="1.6" fill="#5a5a5a" opacity="0.9"/><rect x="561.2" y="712.7" width="1.4" height="1.2" fill="#1c1c1c" opacity="0.9"/><rect x="563.6" y="709.9" width="2.2" height="3.0" fill="#5a5a5a" opacity="0.9"/><rect x="573.1" y="709.4" width="1.3" height="1.4" fill="#cfcfcf" opacity="0.9"/><rect x="570.8" y="707.3" width="1.3" height="1.5" fill="#5a5a5a" opacity="0.9"/><rect x="571.0" y="707.1" width="1.7" height="1.9" fill="#5a5a5a" opacity="0.9"/><rect x="566.2" y="714.1" width="1.8" height="1.9" fill="#5a5a5a" opacity="0.9"/><rect x="560.7" y="709.2" width="2.3" height="2.2" fill="#5a5a5a" opacity="0.9"/><rect x="567.2" y="714.1" width="1.5" height="1.6" fill="#1c1c1c" opacity="0.9"/><rect x="570.1" y="706.8" width="1.2" height="1.4" fill="#1c1c1c" opacity="0.9"/><rect x="572.2" y="708.4" width="2.4" height="2.1" fill="#5a5a5a" opacity="0.9"/><rect x="563.1" y="708.2" width="1.1" height="1.4" fill="#1c1c1c" opacity="0.9"/><rect x="558.3" y="712.5" width="1.4" height="1.7" fill="#1c1c1c" opacity="0.9"/><rect x="563.1" y="707.9" width="1.8" height="1.9" fill="#cfcfcf" opacity="0.9"/><rect x="574.2" y="710.0" width="1.9" height="1.9" fill="#cfcfcf" opacity="0.9"/><rect x="571.7" y="711.0" width="1.2" height="1.5" fill="#1c1c1c" opacity="0.9"/><rect x="571.2" y="712.1" width="1.3" height="0.9" fill="#5a5a5a" opacity="0.9"/><rect x="565.7" y="707.6" width="1.7" height="1.6" fill="#1c1c1c" opacity="0.9"/><rect x="571.5" y="711.7" width="1.4" height="1.7" fill="#5a5a5a" opacity="0.9"/><rect x="569.6" y="715.2" width="1.5" height="1.8" fill="#1c1c1c" opacity="0.9"/><rect x="564.0" y="709.8" width="2.5" height="1.9" fill="#1c1c1c" opacity="0.9"/><rect x="561.2" y="709.3" width="2.3" height="2.7" fill="#1c1c1c" opacity="0.9"/><rect x="569.5" y="710.8" width="1.9" height="1.6" fill="#5a5a5a" opacity="0.9"/><rect x="566.7" y="709.0" width="1.9" height="1.1" fill="#1c1c1c" opacity="0.9"/><rect x="564.8" y="713.8" width="1.5" height="1.6" fill="#5a5a5a" opacity="0.9"/><rect x="565.4" y="714.1" width="1.4" height="1.8" fill="#cfcfcf" opacity="0.9"/><rect x="568.2" y="709.6" width="1.2" height="0.9" fill="#cfcfcf" opacity="0.9"/><rect x="564.1" y="711.1" width="2.7" height="2.7" fill="#cfcfcf" opacity="0.9"/><rect x="574.3" y="709.2" width="1.7" height="1.8" fill="#cfcfcf" opacity="0.9"/><rect x="561.2" y="709.9" width="2.5" height="2.9" fill="#1c1c1c" opacity="0.9"/><rect x="570.3" y="708.9" width="2.8" height="1.8" fill="#5a5a5a" opacity="0.9"/><rect x="561.6" y="710.5" width="2.8" height="1.8" fill="#1c1c1c" opacity="0.9"/><rect x="563.4" y="706.6" width="1.7" height="1.7" fill="#cfcfcf" opacity="0.9"/><rect x="573.1" y="710.5" width="1.9" height="2.1" fill="#1c1c1c" opacity="0.9"/></g><g transform="rotate(-15 586 735)"><ellipse cx="582.1" cy="730.4" rx="3.0" ry="6.9" fill="#555" opacity="0.45"/><ellipse cx="586.0" cy="738.5" rx="2.7" ry="5.8" fill="#555" opacity="0.45"/><ellipse cx="589.2" cy="735.4" rx="4.1" ry="6.9" fill="#555" opacity="0.45"/><ellipse cx="584.8" cy="727.0" rx="3.8" ry="4.7" fill="#555" opacity="0.45"/><ellipse cx="581.4" cy="738.7" rx="3.9" ry="6.7" fill="#555" opacity="0.45"/><ellipse cx="590.2" cy="730.2" rx="2.7" ry="4.7" fill="#555" opacity="0.45"/><rect x="583.2" y="726.1" width="1.6" height="1.1" fill="#5a5a5a" opacity="0.9"/><rect x="589.4" y="739.7" width="2.0" height="2.5" fill="#cfcfcf" opacity="0.9"/><rect x="586.4" y="727.7" width="1.6" height="1.5" fill="#1c1c1c" opacity="0.9"/><rect x="592.3" y="732.7" width="1.1" height="1.4" fill="#1c1c1c" opacity="0.9"/><rect x="584.7" y="739.3" width="1.2" height="1.3" fill="#1c1c1c" opacity="0.9"/><rect x="578.8" y="729.4" width="1.7" height="1.1" fill="#1c1c1c" opacity="0.9"/><rect x="587.7" y="744.9" width="1.9" height="2.4" fill="#5a5a5a" opacity="0.9"/><rect x="586.7" y="734.6" width="1.9" height="1.7" fill="#1c1c1c" opacity="0.9"/><rect x="587.9" y="726.4" width="2.5" height="2.7" fill="#cfcfcf" opacity="0.9"/><rect x="589.9" y="737.9" width="1.2" height="0.7" fill="#1c1c1c" opacity="0.9"/><rect x="586.1" y="745.0" width="2.4" height="3.3" fill="#1c1c1c" opacity="0.9"/><rect x="591.3" y="733.4" width="1.1" height="0.8" fill="#1c1c1c" opacity="0.9"/><rect x="583.0" y="723.8" width="2.3" height="1.8" fill="#5a5a5a" opacity="0.9"/><rect x="589.0" y="736.1" width="1.9" height="1.7" fill="#5a5a5a" opacity="0.9"/><rect x="587.9" y="738.0" width="2.4" height="1.6" fill="#1c1c1c" opacity="0.9"/><rect x="582.1" y="744.5" width="2.8" height="2.6" fill="#1c1c1c" opacity="0.9"/><rect x="584.8" y="744.2" width="1.0" height="0.8" fill="#5a5a5a" opacity="0.9"/><rect x="586.1" y="725.5" width="1.2" height="1.2" fill="#5a5a5a" opacity="0.9"/><rect x="588.5" y="723.8" width="2.1" height="2.1" fill="#5a5a5a" opacity="0.9"/><rect x="581.3" y="729.5" width="2.3" height="1.7" fill="#cfcfcf" opacity="0.9"/><rect x="592.0" y="737.1" width="1.7" height="1.7" fill="#1c1c1c" opacity="0.9"/><rect x="588.9" y="726.7" width="1.2" height="1.5" fill="#cfcfcf" opacity="0.9"/><rect x="583.2" y="733.3" width="2.1" height="1.5" fill="#cfcfcf" opacity="0.9"/><rect x="582.2" y="727.3" width="1.4" height="1.2" fill="#1c1c1c" opacity="0.9"/><rect x="581.3" y="742.6" width="1.6" height="2.0" fill="#5a5a5a" opacity="0.9"/><rect x="581.8" y="725.7" width="2.0" height="2.1" fill="#1c1c1c" opacity="0.9"/><rect x="579.5" y="734.6" width="2.4" height="1.9" fill="#1c1c1c" opacity="0.9"/><rect x="590.5" y="728.7" width="2.8" height="1.7" fill="#cfcfcf" opacity="0.9"/><rect x="584.1" y="725.4" width="2.4" height="1.6" fill="#1c1c1c" opacity="0.9"/><rect x="586.9" y="736.1" width="1.1" height="1.0" fill="#5a5a5a" opacity="0.9"/><rect x="585.4" y="733.8" width="1.9" height="2.4" fill="#1c1c1c" opacity="0.9"/><rect x="584.6" y="731.2" width="2.5" height="3.0" fill="#5a5a5a" opacity="0.9"/><rect x="591.1" y="730.8" width="1.2" height="1.3" fill="#1c1c1c" opacity="0.9"/><rect x="588.9" y="739.6" width="2.1" height="2.4" fill="#cfcfcf" opacity="0.9"/><rect x="586.1" y="722.4" width="2.0" height="1.3" fill="#1c1c1c" opacity="0.9"/><rect x="586.8" y="742.4" width="1.5" height="1.7" fill="#cfcfcf" opacity="0.9"/><rect x="587.4" y="742.8" width="2.3" height="2.5" fill="#1c1c1c" opacity="0.9"/><rect x="582.8" y="731.9" width="2.2" height="2.4" fill="#1c1c1c" opacity="0.9"/><rect x="590.1" y="739.1" width="1.7" height="1.1" fill="#5a5a5a" opacity="0.9"/><rect x="587.1" y="726.4" width="1.2" height="1.3" fill="#1c1c1c" opacity="0.9"/><rect x="586.9" y="732.6" width="2.0" height="1.4" fill="#5a5a5a" opacity="0.9"/><rect x="590.0" y="739.8" width="1.5" height="1.8" fill="#1c1c1c" opacity="0.9"/><rect x="590.3" y="730.7" width="1.2" height="1.4" fill="#cfcfcf" opacity="0.9"/><rect x="583.4" y="732.3" width="1.2" height="0.9" fill="#1c1c1c" opacity="0.9"/><rect x="588.9" y="725.2" width="1.4" height="1.0" fill="#1c1c1c" opacity="0.9"/><rect x="581.6" y="740.0" width="1.4" height="0.9" fill="#cfcfcf" opacity="0.9"/><rect x="585.3" y="738.9" width="1.8" height="1.1" fill="#1c1c1c" opacity="0.9"/><rect x="582.3" y="732.2" width="1.2" height="1.2" fill="#1c1c1c" opacity="0.9"/><rect x="578.5" y="737.6" width="2.7" height="2.6" fill="#cfcfcf" opacity="0.9"/><rect x="589.0" y="730.2" width="1.2" height="1.4" fill="#1c1c1c" opacity="0.9"/><rect x="582.2" y="731.1" width="1.1" height="0.9" fill="#1c1c1c" opacity="0.9"/><rect x="579.7" y="731.2" width="2.7" height="1.7" fill="#1c1c1c" opacity="0.9"/><rect x="579.2" y="730.8" width="1.0" height="0.7" fill="#cfcfcf" opacity="0.9"/><rect x="582.1" y="724.5" width="1.3" height="1.0" fill="#1c1c1c" opacity="0.9"/><rect x="587.2" y="731.2" width="1.4" height="1.8" fill="#1c1c1c" opacity="0.9"/><rect x="588.1" y="732.6" width="1.6" height="1.5" fill="#1c1c1c" opacity="0.9"/><rect x="584.2" y="744.8" width="1.4" height="1.6" fill="#cfcfcf" opacity="0.9"/><rect x="587.7" y="737.2" width="1.1" height="1.1" fill="#1c1c1c" opacity="0.9"/><rect x="586.2" y="744.9" width="2.4" height="1.7" fill="#1c1c1c" opacity="0.9"/><rect x="586.8" y="742.7" width="1.2" height="1.3" fill="#1c1c1c" opacity="0.9"/></g><g transform="rotate(0 598 758)"><ellipse cx="598.4" cy="759.4" rx="2.2" ry="3.4" fill="#555" opacity="0.45"/><ellipse cx="598.8" cy="762.2" rx="2.3" ry="3.2" fill="#555" opacity="0.45"/><ellipse cx="598.8" cy="759.2" rx="1.9" ry="4.7" fill="#555" opacity="0.45"/><ellipse cx="598.2" cy="757.4" rx="2.3" ry="4.1" fill="#555" opacity="0.45"/><ellipse cx="596.9" cy="756.0" rx="1.9" ry="3.0" fill="#555" opacity="0.45"/><ellipse cx="598.6" cy="760.5" rx="1.8" ry="4.5" fill="#555" opacity="0.45"/><rect x="600.3" y="757.8" width="2.2" height="1.4" fill="#1c1c1c" opacity="0.9"/><rect x="594.5" y="763.2" width="2.3" height="2.0" fill="#1c1c1c" opacity="0.9"/><rect x="595.4" y="753.9" width="1.0" height="0.9" fill="#cfcfcf" opacity="0.9"/><rect x="596.6" y="752.4" width="1.2" height="1.6" fill="#1c1c1c" opacity="0.9"/><rect x="599.4" y="758.3" width="1.2" height="0.9" fill="#1c1c1c" opacity="0.9"/><rect x="595.8" y="750.2" width="1.5" height="1.1" fill="#1c1c1c" opacity="0.9"/><rect x="598.3" y="756.4" width="1.9" height="1.9" fill="#1c1c1c" opacity="0.9"/><rect x="599.7" y="754.4" width="1.1" height="1.0" fill="#1c1c1c" opacity="0.9"/><rect x="599.0" y="750.5" width="2.6" height="2.7" fill="#1c1c1c" opacity="0.9"/><rect x="596.2" y="753.7" width="2.6" height="1.9" fill="#cfcfcf" opacity="0.9"/><rect x="597.4" y="759.3" width="1.1" height="1.1" fill="#1c1c1c" opacity="0.9"/><rect x="599.0" y="756.5" width="1.8" height="1.4" fill="#cfcfcf" opacity="0.9"/><rect x="597.0" y="749.5" width="1.7" height="1.5" fill="#5a5a5a" opacity="0.9"/><rect x="598.9" y="759.2" width="1.5" height="1.8" fill="#cfcfcf" opacity="0.9"/><rect x="596.1" y="761.6" width="2.7" height="3.2" fill="#5a5a5a" opacity="0.9"/><rect x="597.4" y="756.9" width="2.5" height="3.0" fill="#cfcfcf" opacity="0.9"/><rect x="595.1" y="750.7" width="1.5" height="1.6" fill="#cfcfcf" opacity="0.9"/><rect x="594.2" y="751.7" width="2.7" height="3.6" fill="#1c1c1c" opacity="0.9"/><rect x="598.8" y="757.8" width="2.8" height="1.7" fill="#cfcfcf" opacity="0.9"/><rect x="600.2" y="755.3" width="2.6" height="1.9" fill="#5a5a5a" opacity="0.9"/><rect x="599.5" y="762.0" width="1.4" height="1.3" fill="#1c1c1c" opacity="0.9"/><rect x="599.1" y="760.6" width="2.6" height="3.1" fill="#5a5a5a" opacity="0.9"/><rect x="598.3" y="754.6" width="1.2" height="1.1" fill="#1c1c1c" opacity="0.9"/><rect x="597.3" y="756.5" width="1.4" height="1.0" fill="#1c1c1c" opacity="0.9"/></g><g transform="rotate(0 480 770)"><ellipse cx="480.1" cy="770.8" rx="1.4" ry="4.0" fill="#555" opacity="0.45"/><ellipse cx="481.3" cy="768.7" rx="1.5" ry="3.2" fill="#555" opacity="0.45"/><ellipse cx="479.4" cy="766.2" rx="1.2" ry="2.8" fill="#555" opacity="0.45"/><ellipse cx="479.2" cy="771.0" rx="1.4" ry="3.8" fill="#555" opacity="0.45"/><ellipse cx="478.6" cy="765.9" rx="1.1" ry="3.4" fill="#555" opacity="0.45"/><ellipse cx="481.1" cy="772.8" rx="1.5" ry="3.5" fill="#555" opacity="0.45"/><rect x="479.9" y="766.3" width="1.6" height="1.6" fill="#1c1c1c" opacity="0.9"/><rect x="479.7" y="770.2" width="1.7" height="1.4" fill="#1c1c1c" opacity="0.9"/><rect x="480.4" y="770.0" width="2.3" height="1.9" fill="#5a5a5a" opacity="0.9"/><rect x="476.8" y="765.6" width="2.6" height="2.4" fill="#5a5a5a" opacity="0.9"/><rect x="480.1" y="766.5" width="2.6" height="3.1" fill="#1c1c1c" opacity="0.9"/><rect x="481.5" y="768.0" width="1.8" height="1.5" fill="#1c1c1c" opacity="0.9"/><rect x="478.1" y="766.6" width="1.1" height="0.8" fill="#1c1c1c" opacity="0.9"/><rect x="479.4" y="768.0" width="1.4" height="1.2" fill="#5a5a5a" opacity="0.9"/><rect x="479.0" y="774.3" width="2.4" height="2.6" fill="#5a5a5a" opacity="0.9"/><rect x="480.4" y="766.9" width="1.6" height="1.9" fill="#5a5a5a" opacity="0.9"/><rect x="478.5" y="767.3" width="1.5" height="1.6" fill="#5a5a5a" opacity="0.9"/><rect x="478.2" y="769.9" width="1.1" height="1.1" fill="#1c1c1c" opacity="0.9"/><rect x="479.5" y="773.0" width="1.5" height="2.0" fill="#cfcfcf" opacity="0.9"/></g><g transform="rotate(0 590 788)"><ellipse cx="590.3" cy="789.0" rx="2.2" ry="1.7" fill="#555" opacity="0.45"/><ellipse cx="588.9" cy="789.9" rx="2.0" ry="1.6" fill="#555" opacity="0.45"/><ellipse cx="591.4" cy="789.7" rx="1.7" ry="1.3" fill="#555" opacity="0.45"/><ellipse cx="591.2" cy="788.3" rx="2.2" ry="1.3" fill="#555" opacity="0.45"/><ellipse cx="592.4" cy="786.0" rx="2.1" ry="1.3" fill="#555" opacity="0.45"/><ellipse cx="587.5" cy="788.7" rx="1.5" ry="1.2" fill="#555" opacity="0.45"/><rect x="588.0" y="785.3" width="1.3" height="1.7" fill="#1c1c1c" opacity="0.9"/><rect x="589.0" y="788.6" width="2.8" height="2.5" fill="#1c1c1c" opacity="0.9"/><rect x="588.1" y="785.6" width="2.1" height="2.1" fill="#5a5a5a" opacity="0.9"/><rect x="590.8" y="789.1" width="2.5" height="2.6" fill="#cfcfcf" opacity="0.9"/><rect x="585.5" y="786.0" width="2.5" height="2.9" fill="#1c1c1c" opacity="0.9"/><rect x="587.4" y="787.8" width="1.4" height="1.7" fill="#5a5a5a" opacity="0.9"/><rect x="586.1" y="784.5" width="2.6" height="1.6" fill="#cfcfcf" opacity="0.9"/><rect x="589.1" y="789.3" width="1.3" height="1.1" fill="#5a5a5a" opacity="0.9"/></g><circle cx="593" cy="780" r="3" fill="#f0f0f0"/><ellipse cx="601" cy="700" rx="2.5" ry="4.5" fill="#6a6a6a"/><rect x="606" y="710.5" width="20" height="2.2" fill="#6e6e6e"/><path d="M568.0,732.7 L576.3,721.6" stroke="#c84040" stroke-width="3.6" opacity="0.75"/><path d="M580.5,716.0 L580.1,724.5 L572.5,718.7 Z" fill="#d04848" opacity="0.85"/><path d="M576.3,721.6 L579.3,717.6" stroke="#f4d0d0" stroke-width="1.2" opacity="0.8"/><path d="M580.0,754.0 L589.5,741.3" stroke="#c84040" stroke-width="3.6" opacity="0.75"/><path d="M593.7,735.7 L593.3,744.2 L585.7,738.4 Z" fill="#d04848" opacity="0.85"/><path d="M589.5,741.3 L592.5,737.3" stroke="#f4d0d0" stroke-width="1.2" opacity="0.8"/></g><rect x="497.2" y="581.5" width="84.6" height="91" fill="none" stroke="#80806a" stroke-width="1.7" /><rect x="476.3" y="687.3" width="151.7" height="131.7" fill="none" stroke="#80806a" stroke-width="1.9" /><path d="M497.2,672.5 L476.3,687.3 M581.8,672.5 Q612,676 628,687.3" fill="none" stroke="#80806a" stroke-width="1.6" /><rect x="497.2" y="581.5" width="84.6" height="91" fill="none" stroke="#d6d58a" stroke-width="1.7" stroke-dasharray="4 2.6"/><rect x="476.3" y="687.3" width="151.7" height="131.7" fill="none" stroke="#d6d58a" stroke-width="1.9" stroke-dasharray="4 2.6"/><path d="M497.2,672.5 L476.3,687.3 M581.8,672.5 Q612,676 628,687.3" fill="none" stroke="#d6d58a" stroke-width="1.6" stroke-dasharray="4 2.6"/><rect x="604" y="812.5" width="20.3" height="2.2" fill="#fff"/><rect x="652" y="812.5" width="34.7" height="2.2" fill="#fff"/><text x="612" y="811" font-size="10.5" fill="#fff" text-anchor="middle">2 µm</text><text x="670" y="811" font-size="10.5" fill="#fff" text-anchor="middle">5 µm</text><rect x="379.9" y="523.9" width="310.8" height="295.3" fill="none" stroke="#4a4a4a" stroke-width="1.8"/>
</svg>
</body></html>
